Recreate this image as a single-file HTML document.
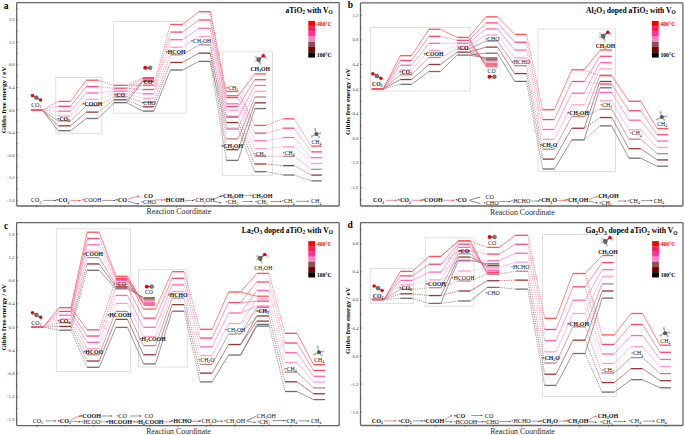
<!DOCTYPE html><html><head><meta charset="utf-8"><style>html,body{margin:0;padding:0;background:#fff;width:685px;height:435px;overflow:hidden}svg{display:block;font-family:"Liberation Serif",serif}</style></head><body>
<svg width="685" height="435" viewBox="0 0 685 435">
<rect width="685" height="435" fill="#fff"/>
<rect x="55.8" y="77.5" width="46" height="55.7" fill="none" stroke="#d6d6d6" stroke-width="0.75"/>
<rect x="113.7" y="21.4" width="72.4" height="91.7" fill="none" stroke="#d6d6d6" stroke-width="0.75"/>
<rect x="222.2" y="51.9" width="50.4" height="123.4" fill="none" stroke="#d6d6d6" stroke-width="0.75"/>
<line x1="42.2" y1="110" x2="58.3" y2="130.7" stroke="#555555" stroke-width="0.6"/>
<line x1="42.2" y1="110" x2="58.3" y2="125.82" stroke="#903030" stroke-width="0.6"/>
<line x1="42.2" y1="110" x2="58.3" y2="120.93" stroke="#a07070" stroke-width="0.6"/>
<line x1="42.2" y1="110" x2="58.3" y2="116.05" stroke="#ff99cc" stroke-width="0.6" stroke-dasharray="1.3,1.0"/>
<line x1="42.2" y1="110" x2="58.3" y2="111.17" stroke="#ff66bb" stroke-width="0.6" stroke-dasharray="1.3,1.0"/>
<line x1="42.2" y1="110" x2="58.3" y2="106.28" stroke="#f5507a" stroke-width="0.6" stroke-dasharray="1.3,1.0"/>
<line x1="42.2" y1="110" x2="58.3" y2="101.4" stroke="#ff3030" stroke-width="0.6" stroke-dasharray="1.3,1.0"/>
<line x1="70.5" y1="130.7" x2="86.3" y2="118.5" stroke="#555555" stroke-width="0.6"/>
<line x1="70.5" y1="125.82" x2="86.3" y2="112.12" stroke="#903030" stroke-width="0.6"/>
<line x1="70.5" y1="120.93" x2="86.3" y2="105.73" stroke="#a07070" stroke-width="0.6"/>
<line x1="70.5" y1="116.05" x2="86.3" y2="99.35" stroke="#ff99cc" stroke-width="0.6"/>
<line x1="70.5" y1="111.17" x2="86.3" y2="92.97" stroke="#ff66bb" stroke-width="0.6"/>
<line x1="70.5" y1="106.28" x2="86.3" y2="86.58" stroke="#f5507a" stroke-width="0.6"/>
<line x1="70.5" y1="101.4" x2="86.3" y2="80.2" stroke="#ff3030" stroke-width="0.6"/>
<line x1="98.1" y1="118.5" x2="114" y2="102.7" stroke="#555555" stroke-width="0.6"/>
<line x1="98.1" y1="112.12" x2="114" y2="99.8" stroke="#903030" stroke-width="0.6" stroke-dasharray="1.3,1.0"/>
<line x1="98.1" y1="105.73" x2="114" y2="96.9" stroke="#a07070" stroke-width="0.6" stroke-dasharray="1.3,1.0"/>
<line x1="98.1" y1="99.35" x2="114" y2="94" stroke="#ff99cc" stroke-width="0.6" stroke-dasharray="1.3,1.0"/>
<line x1="98.1" y1="92.97" x2="114" y2="91.1" stroke="#ff66bb" stroke-width="0.6" stroke-dasharray="1.3,1.0"/>
<line x1="98.1" y1="86.58" x2="114" y2="88.2" stroke="#f5507a" stroke-width="0.6" stroke-dasharray="1.3,1.0"/>
<line x1="98.1" y1="80.2" x2="114" y2="85.3" stroke="#ff3030" stroke-width="0.6" stroke-dasharray="1.3,1.0"/>
<line x1="126.6" y1="102.7" x2="142.8" y2="81.5" stroke="#555555" stroke-width="0.6"/>
<line x1="126.6" y1="99.8" x2="142.8" y2="80.85" stroke="#903030" stroke-width="0.6" stroke-dasharray="1.3,1.0"/>
<line x1="126.6" y1="96.9" x2="142.8" y2="80.2" stroke="#a07070" stroke-width="0.6" stroke-dasharray="1.3,1.0"/>
<line x1="126.6" y1="94" x2="142.8" y2="79.55" stroke="#ff99cc" stroke-width="0.6" stroke-dasharray="1.3,1.0"/>
<line x1="126.6" y1="91.1" x2="142.8" y2="78.9" stroke="#ff66bb" stroke-width="0.6" stroke-dasharray="1.3,1.0"/>
<line x1="126.6" y1="88.2" x2="142.8" y2="78.25" stroke="#f5507a" stroke-width="0.6" stroke-dasharray="1.3,1.0"/>
<line x1="126.6" y1="85.3" x2="142.8" y2="77.6" stroke="#ff3030" stroke-width="0.6" stroke-dasharray="1.3,1.0"/>
<line x1="126.6" y1="102.7" x2="142.8" y2="111.1" stroke="#555555" stroke-width="0.6"/>
<line x1="126.6" y1="99.8" x2="142.8" y2="106.78" stroke="#903030" stroke-width="0.6" stroke-dasharray="1.3,1.0"/>
<line x1="126.6" y1="96.9" x2="142.8" y2="102.47" stroke="#a07070" stroke-width="0.6" stroke-dasharray="1.3,1.0"/>
<line x1="126.6" y1="94" x2="142.8" y2="98.15" stroke="#ff99cc" stroke-width="0.6" stroke-dasharray="1.3,1.0"/>
<line x1="126.6" y1="91.1" x2="142.8" y2="93.83" stroke="#ff66bb" stroke-width="0.6" stroke-dasharray="1.3,1.0"/>
<line x1="126.6" y1="88.2" x2="142.8" y2="89.52" stroke="#f5507a" stroke-width="0.6" stroke-dasharray="1.3,1.0"/>
<line x1="126.6" y1="85.3" x2="142.8" y2="85.2" stroke="#ff3030" stroke-width="0.6" stroke-dasharray="1.3,1.0"/>
<line x1="153.8" y1="111.1" x2="170.4" y2="70" stroke="#555555" stroke-width="0.6"/>
<line x1="153.8" y1="106.78" x2="170.4" y2="62.42" stroke="#903030" stroke-width="0.6" stroke-dasharray="1.3,1.0"/>
<line x1="153.8" y1="102.47" x2="170.4" y2="54.83" stroke="#a07070" stroke-width="0.6" stroke-dasharray="1.3,1.0"/>
<line x1="153.8" y1="98.15" x2="170.4" y2="47.25" stroke="#ff99cc" stroke-width="0.6" stroke-dasharray="1.3,1.0"/>
<line x1="153.8" y1="93.83" x2="170.4" y2="39.67" stroke="#ff66bb" stroke-width="0.6" stroke-dasharray="1.3,1.0"/>
<line x1="153.8" y1="89.52" x2="170.4" y2="32.08" stroke="#f5507a" stroke-width="0.6" stroke-dasharray="1.3,1.0"/>
<line x1="153.8" y1="85.2" x2="170.4" y2="24.5" stroke="#ff3030" stroke-width="0.6" stroke-dasharray="1.3,1.0"/>
<line x1="182.4" y1="70" x2="198.9" y2="61.4" stroke="#555555" stroke-width="0.6"/>
<line x1="182.4" y1="62.42" x2="198.9" y2="53.12" stroke="#903030" stroke-width="0.6"/>
<line x1="182.4" y1="54.83" x2="198.9" y2="44.83" stroke="#a07070" stroke-width="0.6"/>
<line x1="182.4" y1="47.25" x2="198.9" y2="36.55" stroke="#ff99cc" stroke-width="0.6"/>
<line x1="182.4" y1="39.67" x2="198.9" y2="28.27" stroke="#ff66bb" stroke-width="0.6"/>
<line x1="182.4" y1="32.08" x2="198.9" y2="19.98" stroke="#f5507a" stroke-width="0.6"/>
<line x1="182.4" y1="24.5" x2="198.9" y2="11.7" stroke="#ff3030" stroke-width="0.6"/>
<line x1="210.2" y1="61.4" x2="226.4" y2="128.8" stroke="#555555" stroke-width="0.6" stroke-dasharray="1.3,1.0"/>
<line x1="210.2" y1="53.12" x2="226.4" y2="122.57" stroke="#903030" stroke-width="0.6" stroke-dasharray="1.3,1.0"/>
<line x1="210.2" y1="44.83" x2="226.4" y2="116.33" stroke="#a07070" stroke-width="0.6" stroke-dasharray="1.3,1.0"/>
<line x1="210.2" y1="36.55" x2="226.4" y2="110.1" stroke="#ff99cc" stroke-width="0.6" stroke-dasharray="1.3,1.0"/>
<line x1="210.2" y1="28.27" x2="226.4" y2="103.87" stroke="#ff66bb" stroke-width="0.6" stroke-dasharray="1.3,1.0"/>
<line x1="210.2" y1="19.98" x2="226.4" y2="97.63" stroke="#f5507a" stroke-width="0.6" stroke-dasharray="1.3,1.0"/>
<line x1="210.2" y1="11.7" x2="226.4" y2="91.4" stroke="#ff3030" stroke-width="0.6" stroke-dasharray="1.3,1.0"/>
<line x1="210.2" y1="61.4" x2="226.4" y2="160.4" stroke="#555555" stroke-width="0.6" stroke-dasharray="1.3,1.0"/>
<line x1="210.2" y1="53.12" x2="226.4" y2="149.63" stroke="#903030" stroke-width="0.6" stroke-dasharray="1.3,1.0"/>
<line x1="210.2" y1="44.83" x2="226.4" y2="138.87" stroke="#a07070" stroke-width="0.6" stroke-dasharray="1.3,1.0"/>
<line x1="210.2" y1="36.55" x2="226.4" y2="128.1" stroke="#ff99cc" stroke-width="0.6" stroke-dasharray="1.3,1.0"/>
<line x1="210.2" y1="28.27" x2="226.4" y2="117.33" stroke="#ff66bb" stroke-width="0.6" stroke-dasharray="1.3,1.0"/>
<line x1="210.2" y1="19.98" x2="226.4" y2="106.57" stroke="#f5507a" stroke-width="0.6" stroke-dasharray="1.3,1.0"/>
<line x1="210.2" y1="11.7" x2="226.4" y2="95.8" stroke="#ff3030" stroke-width="0.6" stroke-dasharray="1.3,1.0"/>
<line x1="238.1" y1="160.4" x2="254.9" y2="108.6" stroke="#555555" stroke-width="0.6"/>
<line x1="238.1" y1="149.63" x2="254.9" y2="102.82" stroke="#903030" stroke-width="0.6"/>
<line x1="238.1" y1="138.87" x2="254.9" y2="97.03" stroke="#a07070" stroke-width="0.6"/>
<line x1="238.1" y1="128.1" x2="254.9" y2="91.25" stroke="#ff99cc" stroke-width="0.6"/>
<line x1="238.1" y1="117.33" x2="254.9" y2="85.47" stroke="#ff66bb" stroke-width="0.6"/>
<line x1="238.1" y1="106.57" x2="254.9" y2="79.68" stroke="#f5507a" stroke-width="0.6"/>
<line x1="238.1" y1="95.8" x2="254.9" y2="73.9" stroke="#ff3030" stroke-width="0.6"/>
<line x1="238.1" y1="128.8" x2="254.7" y2="171.7" stroke="#555555" stroke-width="0.6" stroke-dasharray="1.3,1.0"/>
<line x1="238.1" y1="122.57" x2="254.7" y2="163.98" stroke="#903030" stroke-width="0.6" stroke-dasharray="1.3,1.0"/>
<line x1="238.1" y1="116.33" x2="254.7" y2="156.27" stroke="#a07070" stroke-width="0.6" stroke-dasharray="1.3,1.0"/>
<line x1="238.1" y1="110.1" x2="254.7" y2="148.55" stroke="#ff99cc" stroke-width="0.6" stroke-dasharray="1.3,1.0"/>
<line x1="238.1" y1="103.87" x2="254.7" y2="140.83" stroke="#ff66bb" stroke-width="0.6" stroke-dasharray="1.3,1.0"/>
<line x1="238.1" y1="97.63" x2="254.7" y2="133.12" stroke="#f5507a" stroke-width="0.6" stroke-dasharray="1.3,1.0"/>
<line x1="238.1" y1="91.4" x2="254.7" y2="125.4" stroke="#ff3030" stroke-width="0.6" stroke-dasharray="1.3,1.0"/>
<line x1="266.1" y1="171.7" x2="283.2" y2="175" stroke="#555555" stroke-width="0.6" stroke-dasharray="1.3,1.0"/>
<line x1="266.1" y1="163.98" x2="283.2" y2="165.63" stroke="#903030" stroke-width="0.6" stroke-dasharray="1.3,1.0"/>
<line x1="266.1" y1="156.27" x2="283.2" y2="156.27" stroke="#a07070" stroke-width="0.6" stroke-dasharray="1.3,1.0"/>
<line x1="266.1" y1="148.55" x2="283.2" y2="146.9" stroke="#ff99cc" stroke-width="0.6" stroke-dasharray="1.3,1.0"/>
<line x1="266.1" y1="140.83" x2="283.2" y2="137.53" stroke="#ff66bb" stroke-width="0.6" stroke-dasharray="1.3,1.0"/>
<line x1="266.1" y1="133.12" x2="283.2" y2="128.17" stroke="#f5507a" stroke-width="0.6" stroke-dasharray="1.3,1.0"/>
<line x1="266.1" y1="125.4" x2="283.2" y2="118.8" stroke="#ff3030" stroke-width="0.6" stroke-dasharray="1.3,1.0"/>
<line x1="294.2" y1="175" x2="311.3" y2="180.9" stroke="#555555" stroke-width="0.6" stroke-dasharray="1.3,1.0"/>
<line x1="294.2" y1="165.63" x2="311.3" y2="175.1" stroke="#903030" stroke-width="0.6" stroke-dasharray="1.3,1.0"/>
<line x1="294.2" y1="156.27" x2="311.3" y2="169.3" stroke="#a07070" stroke-width="0.6" stroke-dasharray="1.3,1.0"/>
<line x1="294.2" y1="146.9" x2="311.3" y2="163.5" stroke="#ff99cc" stroke-width="0.6" stroke-dasharray="1.3,1.0"/>
<line x1="294.2" y1="137.53" x2="311.3" y2="157.7" stroke="#ff66bb" stroke-width="0.6" stroke-dasharray="1.3,1.0"/>
<line x1="294.2" y1="128.17" x2="311.3" y2="151.9" stroke="#f5507a" stroke-width="0.6" stroke-dasharray="1.3,1.0"/>
<line x1="294.2" y1="118.8" x2="311.3" y2="146.1" stroke="#ff3030" stroke-width="0.6" stroke-dasharray="1.3,1.0"/>
<line x1="31" y1="110" x2="42.2" y2="110" stroke="#707070" stroke-width="1.3"/>
<line x1="31" y1="110" x2="42.2" y2="110" stroke="#9a3535" stroke-width="1.3"/>
<line x1="31" y1="110" x2="42.2" y2="110" stroke="#bb8585" stroke-width="1.3"/>
<line x1="31" y1="110" x2="42.2" y2="110" stroke="#ff9dcf" stroke-width="1.3"/>
<line x1="31" y1="110" x2="42.2" y2="110" stroke="#ff66bb" stroke-width="1.3"/>
<line x1="31" y1="110" x2="42.2" y2="110" stroke="#f4487a" stroke-width="1.3"/>
<line x1="31" y1="110" x2="42.2" y2="110" stroke="#ff5252" stroke-width="1.3"/>
<line x1="58.3" y1="130.7" x2="70.5" y2="130.7" stroke="#707070" stroke-width="1.3"/>
<line x1="58.3" y1="125.82" x2="70.5" y2="125.82" stroke="#9a3535" stroke-width="1.3"/>
<line x1="58.3" y1="120.93" x2="70.5" y2="120.93" stroke="#bb8585" stroke-width="1.3"/>
<line x1="58.3" y1="116.05" x2="70.5" y2="116.05" stroke="#ff9dcf" stroke-width="1.3"/>
<line x1="58.3" y1="111.17" x2="70.5" y2="111.17" stroke="#ff66bb" stroke-width="1.3"/>
<line x1="58.3" y1="106.28" x2="70.5" y2="106.28" stroke="#f4487a" stroke-width="1.3"/>
<line x1="58.3" y1="101.4" x2="70.5" y2="101.4" stroke="#ff5252" stroke-width="1.3"/>
<line x1="86.3" y1="118.5" x2="98.1" y2="118.5" stroke="#707070" stroke-width="1.3"/>
<line x1="86.3" y1="112.12" x2="98.1" y2="112.12" stroke="#9a3535" stroke-width="1.3"/>
<line x1="86.3" y1="105.73" x2="98.1" y2="105.73" stroke="#bb8585" stroke-width="1.3"/>
<line x1="86.3" y1="99.35" x2="98.1" y2="99.35" stroke="#ff9dcf" stroke-width="1.3"/>
<line x1="86.3" y1="92.97" x2="98.1" y2="92.97" stroke="#ff66bb" stroke-width="1.3"/>
<line x1="86.3" y1="86.58" x2="98.1" y2="86.58" stroke="#f4487a" stroke-width="1.3"/>
<line x1="86.3" y1="80.2" x2="98.1" y2="80.2" stroke="#ff5252" stroke-width="1.3"/>
<line x1="114" y1="102.7" x2="126.6" y2="102.7" stroke="#707070" stroke-width="1.3"/>
<line x1="114" y1="99.8" x2="126.6" y2="99.8" stroke="#9a3535" stroke-width="1.3"/>
<line x1="114" y1="96.9" x2="126.6" y2="96.9" stroke="#bb8585" stroke-width="1.3"/>
<line x1="114" y1="94" x2="126.6" y2="94" stroke="#ff9dcf" stroke-width="1.3"/>
<line x1="114" y1="91.1" x2="126.6" y2="91.1" stroke="#ff66bb" stroke-width="1.3"/>
<line x1="114" y1="88.2" x2="126.6" y2="88.2" stroke="#f4487a" stroke-width="1.3"/>
<line x1="114" y1="85.3" x2="126.6" y2="85.3" stroke="#ff5252" stroke-width="1.3"/>
<line x1="142.8" y1="81.5" x2="153.8" y2="81.5" stroke="#707070" stroke-width="1.3"/>
<line x1="142.8" y1="80.85" x2="153.8" y2="80.85" stroke="#9a3535" stroke-width="1.3"/>
<line x1="142.8" y1="80.2" x2="153.8" y2="80.2" stroke="#bb8585" stroke-width="1.3"/>
<line x1="142.8" y1="79.55" x2="153.8" y2="79.55" stroke="#ff9dcf" stroke-width="1.3"/>
<line x1="142.8" y1="78.9" x2="153.8" y2="78.9" stroke="#ff66bb" stroke-width="1.3"/>
<line x1="142.8" y1="78.25" x2="153.8" y2="78.25" stroke="#f4487a" stroke-width="1.3"/>
<line x1="142.8" y1="77.6" x2="153.8" y2="77.6" stroke="#ff5252" stroke-width="1.3"/>
<line x1="142.8" y1="111.1" x2="153.8" y2="111.1" stroke="#707070" stroke-width="1.3"/>
<line x1="142.8" y1="106.78" x2="153.8" y2="106.78" stroke="#9a3535" stroke-width="1.3"/>
<line x1="142.8" y1="102.47" x2="153.8" y2="102.47" stroke="#bb8585" stroke-width="1.3"/>
<line x1="142.8" y1="98.15" x2="153.8" y2="98.15" stroke="#ff9dcf" stroke-width="1.3"/>
<line x1="142.8" y1="93.83" x2="153.8" y2="93.83" stroke="#ff66bb" stroke-width="1.3"/>
<line x1="142.8" y1="89.52" x2="153.8" y2="89.52" stroke="#f4487a" stroke-width="1.3"/>
<line x1="142.8" y1="85.2" x2="153.8" y2="85.2" stroke="#ff5252" stroke-width="1.3"/>
<line x1="170.4" y1="70" x2="182.4" y2="70" stroke="#707070" stroke-width="1.3"/>
<line x1="170.4" y1="62.42" x2="182.4" y2="62.42" stroke="#9a3535" stroke-width="1.3"/>
<line x1="170.4" y1="54.83" x2="182.4" y2="54.83" stroke="#bb8585" stroke-width="1.3"/>
<line x1="170.4" y1="47.25" x2="182.4" y2="47.25" stroke="#ff9dcf" stroke-width="1.3"/>
<line x1="170.4" y1="39.67" x2="182.4" y2="39.67" stroke="#ff66bb" stroke-width="1.3"/>
<line x1="170.4" y1="32.08" x2="182.4" y2="32.08" stroke="#f4487a" stroke-width="1.3"/>
<line x1="170.4" y1="24.5" x2="182.4" y2="24.5" stroke="#ff5252" stroke-width="1.3"/>
<line x1="198.9" y1="61.4" x2="210.2" y2="61.4" stroke="#707070" stroke-width="1.3"/>
<line x1="198.9" y1="53.12" x2="210.2" y2="53.12" stroke="#9a3535" stroke-width="1.3"/>
<line x1="198.9" y1="44.83" x2="210.2" y2="44.83" stroke="#bb8585" stroke-width="1.3"/>
<line x1="198.9" y1="36.55" x2="210.2" y2="36.55" stroke="#ff9dcf" stroke-width="1.3"/>
<line x1="198.9" y1="28.27" x2="210.2" y2="28.27" stroke="#ff66bb" stroke-width="1.3"/>
<line x1="198.9" y1="19.98" x2="210.2" y2="19.98" stroke="#f4487a" stroke-width="1.3"/>
<line x1="198.9" y1="11.7" x2="210.2" y2="11.7" stroke="#ff5252" stroke-width="1.3"/>
<line x1="226.4" y1="128.8" x2="238.1" y2="128.8" stroke="#707070" stroke-width="1.3"/>
<line x1="226.4" y1="122.57" x2="238.1" y2="122.57" stroke="#9a3535" stroke-width="1.3"/>
<line x1="226.4" y1="116.33" x2="238.1" y2="116.33" stroke="#bb8585" stroke-width="1.3"/>
<line x1="226.4" y1="110.1" x2="238.1" y2="110.1" stroke="#ff9dcf" stroke-width="1.3"/>
<line x1="226.4" y1="103.87" x2="238.1" y2="103.87" stroke="#ff66bb" stroke-width="1.3"/>
<line x1="226.4" y1="97.63" x2="238.1" y2="97.63" stroke="#f4487a" stroke-width="1.3"/>
<line x1="226.4" y1="91.4" x2="238.1" y2="91.4" stroke="#ff5252" stroke-width="1.3"/>
<line x1="226.4" y1="160.4" x2="238.1" y2="160.4" stroke="#707070" stroke-width="1.3"/>
<line x1="226.4" y1="149.63" x2="238.1" y2="149.63" stroke="#9a3535" stroke-width="1.3"/>
<line x1="226.4" y1="138.87" x2="238.1" y2="138.87" stroke="#bb8585" stroke-width="1.3"/>
<line x1="226.4" y1="128.1" x2="238.1" y2="128.1" stroke="#ff9dcf" stroke-width="1.3"/>
<line x1="226.4" y1="117.33" x2="238.1" y2="117.33" stroke="#ff66bb" stroke-width="1.3"/>
<line x1="226.4" y1="106.57" x2="238.1" y2="106.57" stroke="#f4487a" stroke-width="1.3"/>
<line x1="226.4" y1="95.8" x2="238.1" y2="95.8" stroke="#ff5252" stroke-width="1.3"/>
<line x1="254.9" y1="108.6" x2="265.9" y2="108.6" stroke="#707070" stroke-width="1.3"/>
<line x1="254.9" y1="102.82" x2="265.9" y2="102.82" stroke="#9a3535" stroke-width="1.3"/>
<line x1="254.9" y1="97.03" x2="265.9" y2="97.03" stroke="#bb8585" stroke-width="1.3"/>
<line x1="254.9" y1="91.25" x2="265.9" y2="91.25" stroke="#ff9dcf" stroke-width="1.3"/>
<line x1="254.9" y1="85.47" x2="265.9" y2="85.47" stroke="#ff66bb" stroke-width="1.3"/>
<line x1="254.9" y1="79.68" x2="265.9" y2="79.68" stroke="#f4487a" stroke-width="1.3"/>
<line x1="254.9" y1="73.9" x2="265.9" y2="73.9" stroke="#ff5252" stroke-width="1.3"/>
<line x1="254.7" y1="171.7" x2="266.1" y2="171.7" stroke="#707070" stroke-width="1.3"/>
<line x1="254.7" y1="163.98" x2="266.1" y2="163.98" stroke="#9a3535" stroke-width="1.3"/>
<line x1="254.7" y1="156.27" x2="266.1" y2="156.27" stroke="#bb8585" stroke-width="1.3"/>
<line x1="254.7" y1="148.55" x2="266.1" y2="148.55" stroke="#ff9dcf" stroke-width="1.3"/>
<line x1="254.7" y1="140.83" x2="266.1" y2="140.83" stroke="#ff66bb" stroke-width="1.3"/>
<line x1="254.7" y1="133.12" x2="266.1" y2="133.12" stroke="#f4487a" stroke-width="1.3"/>
<line x1="254.7" y1="125.4" x2="266.1" y2="125.4" stroke="#ff5252" stroke-width="1.3"/>
<line x1="283.2" y1="175" x2="294.2" y2="175" stroke="#707070" stroke-width="1.3"/>
<line x1="283.2" y1="165.63" x2="294.2" y2="165.63" stroke="#9a3535" stroke-width="1.3"/>
<line x1="283.2" y1="156.27" x2="294.2" y2="156.27" stroke="#bb8585" stroke-width="1.3"/>
<line x1="283.2" y1="146.9" x2="294.2" y2="146.9" stroke="#ff9dcf" stroke-width="1.3"/>
<line x1="283.2" y1="137.53" x2="294.2" y2="137.53" stroke="#ff66bb" stroke-width="1.3"/>
<line x1="283.2" y1="128.17" x2="294.2" y2="128.17" stroke="#f4487a" stroke-width="1.3"/>
<line x1="283.2" y1="118.8" x2="294.2" y2="118.8" stroke="#ff5252" stroke-width="1.3"/>
<line x1="311.3" y1="180.9" x2="321.8" y2="180.9" stroke="#707070" stroke-width="1.3"/>
<line x1="311.3" y1="175.1" x2="321.8" y2="175.1" stroke="#9a3535" stroke-width="1.3"/>
<line x1="311.3" y1="169.3" x2="321.8" y2="169.3" stroke="#bb8585" stroke-width="1.3"/>
<line x1="311.3" y1="163.5" x2="321.8" y2="163.5" stroke="#ff9dcf" stroke-width="1.3"/>
<line x1="311.3" y1="157.7" x2="321.8" y2="157.7" stroke="#ff66bb" stroke-width="1.3"/>
<line x1="311.3" y1="151.9" x2="321.8" y2="151.9" stroke="#f4487a" stroke-width="1.3"/>
<line x1="311.3" y1="146.1" x2="321.8" y2="146.1" stroke="#ff5252" stroke-width="1.3"/>
<rect x="16.7" y="2.7" width="322.5" height="203.3" fill="none" stroke="#666" stroke-width="1.3" rx="0.8"/>
<line x1="16.7" y1="200.3" x2="18.3" y2="200.3" stroke="#444" stroke-width="0.5"/>
<text x="14.7" y="201.89" font-size="4.8" text-anchor="end" fill="#444" >-1.6</text>
<line x1="16.7" y1="189.02" x2="17.9" y2="189.02" stroke="#444" stroke-width="0.5"/>
<line x1="16.7" y1="177.73" x2="18.3" y2="177.73" stroke="#444" stroke-width="0.5"/>
<text x="14.7" y="179.31" font-size="4.8" text-anchor="end" fill="#444" >-1.2</text>
<line x1="16.7" y1="166.44" x2="17.9" y2="166.44" stroke="#444" stroke-width="0.5"/>
<line x1="16.7" y1="155.15" x2="18.3" y2="155.15" stroke="#444" stroke-width="0.5"/>
<text x="14.7" y="156.74" font-size="4.8" text-anchor="end" fill="#444" >-0.8</text>
<line x1="16.7" y1="143.86" x2="17.9" y2="143.86" stroke="#444" stroke-width="0.5"/>
<line x1="16.7" y1="132.58" x2="18.3" y2="132.58" stroke="#444" stroke-width="0.5"/>
<text x="14.7" y="134.16" font-size="4.8" text-anchor="end" fill="#444" >-0.4</text>
<line x1="16.7" y1="121.29" x2="17.9" y2="121.29" stroke="#444" stroke-width="0.5"/>
<line x1="16.7" y1="110" x2="18.3" y2="110" stroke="#444" stroke-width="0.5"/>
<text x="14.7" y="111.58" font-size="4.8" text-anchor="end" fill="#444" >0.0</text>
<line x1="16.7" y1="98.71" x2="17.9" y2="98.71" stroke="#444" stroke-width="0.5"/>
<line x1="16.7" y1="87.42" x2="18.3" y2="87.42" stroke="#444" stroke-width="0.5"/>
<text x="14.7" y="89.01" font-size="4.8" text-anchor="end" fill="#444" >0.4</text>
<line x1="16.7" y1="76.14" x2="17.9" y2="76.14" stroke="#444" stroke-width="0.5"/>
<line x1="16.7" y1="64.85" x2="18.3" y2="64.85" stroke="#444" stroke-width="0.5"/>
<text x="14.7" y="66.43" font-size="4.8" text-anchor="end" fill="#444" >0.8</text>
<line x1="16.7" y1="53.56" x2="17.9" y2="53.56" stroke="#444" stroke-width="0.5"/>
<line x1="16.7" y1="42.27" x2="18.3" y2="42.27" stroke="#444" stroke-width="0.5"/>
<text x="14.7" y="43.86" font-size="4.8" text-anchor="end" fill="#444" >1.2</text>
<line x1="16.7" y1="30.98" x2="17.9" y2="30.98" stroke="#444" stroke-width="0.5"/>
<line x1="16.7" y1="19.7" x2="18.3" y2="19.7" stroke="#444" stroke-width="0.5"/>
<text x="14.7" y="21.28" font-size="4.8" text-anchor="end" fill="#444" >1.6</text>
<line x1="16.7" y1="8.41" x2="17.9" y2="8.41" stroke="#444" stroke-width="0.5"/>
<line x1="36.4" y1="205.7" x2="36.4" y2="207.3" stroke="#444" stroke-width="0.6"/>
<line x1="64.4" y1="205.7" x2="64.4" y2="207.3" stroke="#444" stroke-width="0.6"/>
<line x1="92.4" y1="205.7" x2="92.4" y2="207.3" stroke="#444" stroke-width="0.6"/>
<line x1="120.4" y1="205.7" x2="120.4" y2="207.3" stroke="#444" stroke-width="0.6"/>
<line x1="148.4" y1="205.7" x2="148.4" y2="207.3" stroke="#444" stroke-width="0.6"/>
<line x1="176.4" y1="205.7" x2="176.4" y2="207.3" stroke="#444" stroke-width="0.6"/>
<line x1="204.4" y1="205.7" x2="204.4" y2="207.3" stroke="#444" stroke-width="0.6"/>
<line x1="232.4" y1="205.7" x2="232.4" y2="207.3" stroke="#444" stroke-width="0.6"/>
<line x1="260.4" y1="205.7" x2="260.4" y2="207.3" stroke="#444" stroke-width="0.6"/>
<line x1="288.4" y1="205.7" x2="288.4" y2="207.3" stroke="#444" stroke-width="0.6"/>
<line x1="316.4" y1="205.7" x2="316.4" y2="207.3" stroke="#444" stroke-width="0.6"/>
<rect x="370.7" y="27.4" width="99.4" height="63.6" fill="none" stroke="#d6d6d6" stroke-width="0.75"/>
<rect x="538" y="29" width="77.5" height="142.7" fill="none" stroke="#d6d6d6" stroke-width="0.75"/>
<line x1="383.1" y1="89" x2="400.3" y2="84.3" stroke="#555555" stroke-width="0.6" stroke-dasharray="1.3,1.0"/>
<line x1="383.1" y1="89" x2="400.3" y2="79.53" stroke="#903030" stroke-width="0.6"/>
<line x1="383.1" y1="89" x2="400.3" y2="74.77" stroke="#a07070" stroke-width="0.6"/>
<line x1="383.1" y1="89" x2="400.3" y2="70" stroke="#ff99cc" stroke-width="0.6"/>
<line x1="383.1" y1="89" x2="400.3" y2="65.23" stroke="#ff66bb" stroke-width="0.6"/>
<line x1="383.1" y1="89" x2="400.3" y2="60.47" stroke="#f5507a" stroke-width="0.6"/>
<line x1="383.1" y1="89" x2="400.3" y2="55.7" stroke="#ff3030" stroke-width="0.6"/>
<line x1="411.6" y1="84.3" x2="429" y2="71.5" stroke="#555555" stroke-width="0.6"/>
<line x1="411.6" y1="79.53" x2="429" y2="64.47" stroke="#903030" stroke-width="0.6"/>
<line x1="411.6" y1="74.77" x2="429" y2="57.43" stroke="#a07070" stroke-width="0.6"/>
<line x1="411.6" y1="70" x2="429" y2="50.4" stroke="#ff99cc" stroke-width="0.6"/>
<line x1="411.6" y1="65.23" x2="429" y2="43.37" stroke="#ff66bb" stroke-width="0.6"/>
<line x1="411.6" y1="60.47" x2="429" y2="36.33" stroke="#f5507a" stroke-width="0.6"/>
<line x1="411.6" y1="55.7" x2="429" y2="29.3" stroke="#ff3030" stroke-width="0.6"/>
<line x1="440.3" y1="71.5" x2="457.2" y2="55.1" stroke="#555555" stroke-width="0.6"/>
<line x1="440.3" y1="64.47" x2="457.2" y2="52.15" stroke="#903030" stroke-width="0.6"/>
<line x1="440.3" y1="57.43" x2="457.2" y2="49.2" stroke="#a07070" stroke-width="0.6" stroke-dasharray="1.3,1.0"/>
<line x1="440.3" y1="50.4" x2="457.2" y2="46.25" stroke="#ff99cc" stroke-width="0.6" stroke-dasharray="1.3,1.0"/>
<line x1="440.3" y1="43.37" x2="457.2" y2="43.3" stroke="#ff66bb" stroke-width="0.6" stroke-dasharray="1.3,1.0"/>
<line x1="440.3" y1="36.33" x2="457.2" y2="40.35" stroke="#f5507a" stroke-width="0.6" stroke-dasharray="1.3,1.0"/>
<line x1="440.3" y1="29.3" x2="457.2" y2="37.4" stroke="#ff3030" stroke-width="0.6"/>
<line x1="468.5" y1="55.1" x2="485.9" y2="53.2" stroke="#555555" stroke-width="0.6"/>
<line x1="468.5" y1="52.15" x2="485.9" y2="47.13" stroke="#903030" stroke-width="0.6"/>
<line x1="468.5" y1="49.2" x2="485.9" y2="41.07" stroke="#a07070" stroke-width="0.6"/>
<line x1="468.5" y1="46.25" x2="485.9" y2="35" stroke="#ff99cc" stroke-width="0.6"/>
<line x1="468.5" y1="43.3" x2="485.9" y2="28.93" stroke="#ff66bb" stroke-width="0.6"/>
<line x1="468.5" y1="40.35" x2="485.9" y2="22.87" stroke="#f5507a" stroke-width="0.6"/>
<line x1="468.5" y1="37.4" x2="485.9" y2="16.8" stroke="#ff3030" stroke-width="0.6"/>
<line x1="468.5" y1="55.1" x2="485.9" y2="57.8" stroke="#555555" stroke-width="0.6"/>
<line x1="468.5" y1="52.15" x2="485.9" y2="59.2" stroke="#903030" stroke-width="0.6"/>
<line x1="468.5" y1="49.2" x2="485.9" y2="60.6" stroke="#a07070" stroke-width="0.6"/>
<line x1="468.5" y1="46.25" x2="485.9" y2="62" stroke="#ff99cc" stroke-width="0.6"/>
<line x1="468.5" y1="43.3" x2="485.9" y2="63.4" stroke="#ff66bb" stroke-width="0.6"/>
<line x1="468.5" y1="40.35" x2="485.9" y2="64.8" stroke="#f5507a" stroke-width="0.6"/>
<line x1="468.5" y1="37.4" x2="485.9" y2="66.2" stroke="#ff3030" stroke-width="0.6"/>
<line x1="497.5" y1="53.2" x2="514.7" y2="81.4" stroke="#555555" stroke-width="0.6"/>
<line x1="497.5" y1="47.13" x2="514.7" y2="73.57" stroke="#903030" stroke-width="0.6"/>
<line x1="497.5" y1="41.07" x2="514.7" y2="65.73" stroke="#a07070" stroke-width="0.6"/>
<line x1="497.5" y1="35" x2="514.7" y2="57.9" stroke="#ff99cc" stroke-width="0.6"/>
<line x1="497.5" y1="28.93" x2="514.7" y2="50.07" stroke="#ff66bb" stroke-width="0.6"/>
<line x1="497.5" y1="22.87" x2="514.7" y2="42.23" stroke="#f5507a" stroke-width="0.6"/>
<line x1="497.5" y1="16.8" x2="514.7" y2="34.4" stroke="#ff3030" stroke-width="0.6"/>
<line x1="526.5" y1="81.4" x2="542.7" y2="169" stroke="#555555" stroke-width="0.6" stroke-dasharray="1.3,1.0"/>
<line x1="526.5" y1="73.57" x2="542.7" y2="159.12" stroke="#903030" stroke-width="0.6" stroke-dasharray="1.3,1.0"/>
<line x1="526.5" y1="65.73" x2="542.7" y2="149.23" stroke="#a07070" stroke-width="0.6" stroke-dasharray="1.3,1.0"/>
<line x1="526.5" y1="57.9" x2="542.7" y2="139.35" stroke="#ff99cc" stroke-width="0.6" stroke-dasharray="1.3,1.0"/>
<line x1="526.5" y1="50.07" x2="542.7" y2="129.47" stroke="#ff66bb" stroke-width="0.6" stroke-dasharray="1.3,1.0"/>
<line x1="526.5" y1="42.23" x2="542.7" y2="119.58" stroke="#f5507a" stroke-width="0.6" stroke-dasharray="1.3,1.0"/>
<line x1="526.5" y1="34.4" x2="542.7" y2="109.7" stroke="#ff3030" stroke-width="0.6" stroke-dasharray="1.3,1.0"/>
<line x1="554.3" y1="169" x2="571.8" y2="139.9" stroke="#555555" stroke-width="0.6"/>
<line x1="554.3" y1="159.12" x2="571.8" y2="128.22" stroke="#903030" stroke-width="0.6"/>
<line x1="554.3" y1="149.23" x2="571.8" y2="116.53" stroke="#a07070" stroke-width="0.6"/>
<line x1="554.3" y1="139.35" x2="571.8" y2="104.85" stroke="#ff99cc" stroke-width="0.6"/>
<line x1="554.3" y1="129.47" x2="571.8" y2="93.17" stroke="#ff66bb" stroke-width="0.6"/>
<line x1="554.3" y1="119.58" x2="571.8" y2="81.48" stroke="#f5507a" stroke-width="0.6"/>
<line x1="554.3" y1="109.7" x2="571.8" y2="69.8" stroke="#ff3030" stroke-width="0.6"/>
<line x1="584.2" y1="139.9" x2="600" y2="87.8" stroke="#555555" stroke-width="0.6"/>
<line x1="584.2" y1="128.22" x2="600" y2="81.5" stroke="#903030" stroke-width="0.6"/>
<line x1="584.2" y1="116.53" x2="600" y2="75.2" stroke="#a07070" stroke-width="0.6"/>
<line x1="584.2" y1="104.85" x2="600" y2="68.9" stroke="#ff99cc" stroke-width="0.6"/>
<line x1="584.2" y1="93.17" x2="600" y2="62.6" stroke="#ff66bb" stroke-width="0.6"/>
<line x1="584.2" y1="81.48" x2="600" y2="56.3" stroke="#f5507a" stroke-width="0.6"/>
<line x1="584.2" y1="69.8" x2="600" y2="50" stroke="#ff3030" stroke-width="0.6"/>
<line x1="584.2" y1="139.9" x2="600" y2="125.9" stroke="#555555" stroke-width="0.6" stroke-dasharray="1.3,1.0"/>
<line x1="584.2" y1="128.22" x2="600" y2="117.53" stroke="#903030" stroke-width="0.6" stroke-dasharray="1.3,1.0"/>
<line x1="584.2" y1="116.53" x2="600" y2="109.17" stroke="#a07070" stroke-width="0.6" stroke-dasharray="1.3,1.0"/>
<line x1="584.2" y1="104.85" x2="600" y2="100.8" stroke="#ff99cc" stroke-width="0.6" stroke-dasharray="1.3,1.0"/>
<line x1="584.2" y1="93.17" x2="600" y2="92.43" stroke="#ff66bb" stroke-width="0.6" stroke-dasharray="1.3,1.0"/>
<line x1="584.2" y1="81.48" x2="600" y2="84.07" stroke="#f5507a" stroke-width="0.6" stroke-dasharray="1.3,1.0"/>
<line x1="584.2" y1="69.8" x2="600" y2="75.7" stroke="#ff3030" stroke-width="0.6" stroke-dasharray="1.3,1.0"/>
<line x1="611.7" y1="125.9" x2="628.9" y2="158.2" stroke="#555555" stroke-width="0.6"/>
<line x1="611.7" y1="117.53" x2="628.9" y2="148.7" stroke="#903030" stroke-width="0.6"/>
<line x1="611.7" y1="109.17" x2="628.9" y2="139.2" stroke="#a07070" stroke-width="0.6"/>
<line x1="611.7" y1="100.8" x2="628.9" y2="129.7" stroke="#ff99cc" stroke-width="0.6"/>
<line x1="611.7" y1="92.43" x2="628.9" y2="120.2" stroke="#ff66bb" stroke-width="0.6"/>
<line x1="611.7" y1="84.07" x2="628.9" y2="110.7" stroke="#f5507a" stroke-width="0.6"/>
<line x1="611.7" y1="75.7" x2="628.9" y2="101.2" stroke="#ff3030" stroke-width="0.6"/>
<line x1="640.7" y1="158.2" x2="657.2" y2="166.2" stroke="#555555" stroke-width="0.6"/>
<line x1="640.7" y1="148.7" x2="657.2" y2="159.92" stroke="#903030" stroke-width="0.6"/>
<line x1="640.7" y1="139.2" x2="657.2" y2="153.63" stroke="#a07070" stroke-width="0.6"/>
<line x1="640.7" y1="129.7" x2="657.2" y2="147.35" stroke="#ff99cc" stroke-width="0.6"/>
<line x1="640.7" y1="120.2" x2="657.2" y2="141.07" stroke="#ff66bb" stroke-width="0.6"/>
<line x1="640.7" y1="110.7" x2="657.2" y2="134.78" stroke="#f5507a" stroke-width="0.6"/>
<line x1="640.7" y1="101.2" x2="657.2" y2="128.5" stroke="#ff3030" stroke-width="0.6"/>
<line x1="371.9" y1="89" x2="383.1" y2="89" stroke="#707070" stroke-width="1.3"/>
<line x1="371.9" y1="89" x2="383.1" y2="89" stroke="#9a3535" stroke-width="1.3"/>
<line x1="371.9" y1="89" x2="383.1" y2="89" stroke="#bb8585" stroke-width="1.3"/>
<line x1="371.9" y1="89" x2="383.1" y2="89" stroke="#ff9dcf" stroke-width="1.3"/>
<line x1="371.9" y1="89" x2="383.1" y2="89" stroke="#ff66bb" stroke-width="1.3"/>
<line x1="371.9" y1="89" x2="383.1" y2="89" stroke="#f4487a" stroke-width="1.3"/>
<line x1="371.9" y1="89" x2="383.1" y2="89" stroke="#ff5252" stroke-width="1.3"/>
<line x1="400.3" y1="84.3" x2="411.6" y2="84.3" stroke="#707070" stroke-width="1.3"/>
<line x1="400.3" y1="79.53" x2="411.6" y2="79.53" stroke="#9a3535" stroke-width="1.3"/>
<line x1="400.3" y1="74.77" x2="411.6" y2="74.77" stroke="#bb8585" stroke-width="1.3"/>
<line x1="400.3" y1="70" x2="411.6" y2="70" stroke="#ff9dcf" stroke-width="1.3"/>
<line x1="400.3" y1="65.23" x2="411.6" y2="65.23" stroke="#ff66bb" stroke-width="1.3"/>
<line x1="400.3" y1="60.47" x2="411.6" y2="60.47" stroke="#f4487a" stroke-width="1.3"/>
<line x1="400.3" y1="55.7" x2="411.6" y2="55.7" stroke="#ff5252" stroke-width="1.3"/>
<line x1="429" y1="71.5" x2="440.3" y2="71.5" stroke="#707070" stroke-width="1.3"/>
<line x1="429" y1="64.47" x2="440.3" y2="64.47" stroke="#9a3535" stroke-width="1.3"/>
<line x1="429" y1="57.43" x2="440.3" y2="57.43" stroke="#bb8585" stroke-width="1.3"/>
<line x1="429" y1="50.4" x2="440.3" y2="50.4" stroke="#ff9dcf" stroke-width="1.3"/>
<line x1="429" y1="43.37" x2="440.3" y2="43.37" stroke="#ff66bb" stroke-width="1.3"/>
<line x1="429" y1="36.33" x2="440.3" y2="36.33" stroke="#f4487a" stroke-width="1.3"/>
<line x1="429" y1="29.3" x2="440.3" y2="29.3" stroke="#ff5252" stroke-width="1.3"/>
<line x1="457.2" y1="55.1" x2="468.5" y2="55.1" stroke="#707070" stroke-width="1.3"/>
<line x1="457.2" y1="52.15" x2="468.5" y2="52.15" stroke="#9a3535" stroke-width="1.3"/>
<line x1="457.2" y1="49.2" x2="468.5" y2="49.2" stroke="#bb8585" stroke-width="1.3"/>
<line x1="457.2" y1="46.25" x2="468.5" y2="46.25" stroke="#ff9dcf" stroke-width="1.3"/>
<line x1="457.2" y1="43.3" x2="468.5" y2="43.3" stroke="#ff66bb" stroke-width="1.3"/>
<line x1="457.2" y1="40.35" x2="468.5" y2="40.35" stroke="#f4487a" stroke-width="1.3"/>
<line x1="457.2" y1="37.4" x2="468.5" y2="37.4" stroke="#ff5252" stroke-width="1.3"/>
<line x1="485.9" y1="53.2" x2="497.5" y2="53.2" stroke="#707070" stroke-width="1.3"/>
<line x1="485.9" y1="47.13" x2="497.5" y2="47.13" stroke="#9a3535" stroke-width="1.3"/>
<line x1="485.9" y1="41.07" x2="497.5" y2="41.07" stroke="#bb8585" stroke-width="1.3"/>
<line x1="485.9" y1="35" x2="497.5" y2="35" stroke="#ff9dcf" stroke-width="1.3"/>
<line x1="485.9" y1="28.93" x2="497.5" y2="28.93" stroke="#ff66bb" stroke-width="1.3"/>
<line x1="485.9" y1="22.87" x2="497.5" y2="22.87" stroke="#f4487a" stroke-width="1.3"/>
<line x1="485.9" y1="16.8" x2="497.5" y2="16.8" stroke="#ff5252" stroke-width="1.3"/>
<line x1="485.9" y1="57.8" x2="497.5" y2="57.8" stroke="#707070" stroke-width="1.3"/>
<line x1="485.9" y1="59.2" x2="497.5" y2="59.2" stroke="#9a3535" stroke-width="1.3"/>
<line x1="485.9" y1="60.6" x2="497.5" y2="60.6" stroke="#bb8585" stroke-width="1.3"/>
<line x1="485.9" y1="62" x2="497.5" y2="62" stroke="#ff9dcf" stroke-width="1.3"/>
<line x1="485.9" y1="63.4" x2="497.5" y2="63.4" stroke="#ff66bb" stroke-width="1.3"/>
<line x1="485.9" y1="64.8" x2="497.5" y2="64.8" stroke="#f4487a" stroke-width="1.3"/>
<line x1="485.9" y1="66.2" x2="497.5" y2="66.2" stroke="#ff5252" stroke-width="1.3"/>
<line x1="514.7" y1="81.4" x2="526.5" y2="81.4" stroke="#707070" stroke-width="1.3"/>
<line x1="514.7" y1="73.57" x2="526.5" y2="73.57" stroke="#9a3535" stroke-width="1.3"/>
<line x1="514.7" y1="65.73" x2="526.5" y2="65.73" stroke="#bb8585" stroke-width="1.3"/>
<line x1="514.7" y1="57.9" x2="526.5" y2="57.9" stroke="#ff9dcf" stroke-width="1.3"/>
<line x1="514.7" y1="50.07" x2="526.5" y2="50.07" stroke="#ff66bb" stroke-width="1.3"/>
<line x1="514.7" y1="42.23" x2="526.5" y2="42.23" stroke="#f4487a" stroke-width="1.3"/>
<line x1="514.7" y1="34.4" x2="526.5" y2="34.4" stroke="#ff5252" stroke-width="1.3"/>
<line x1="542.7" y1="169" x2="554.3" y2="169" stroke="#707070" stroke-width="1.3"/>
<line x1="542.7" y1="159.12" x2="554.3" y2="159.12" stroke="#9a3535" stroke-width="1.3"/>
<line x1="542.7" y1="149.23" x2="554.3" y2="149.23" stroke="#bb8585" stroke-width="1.3"/>
<line x1="542.7" y1="139.35" x2="554.3" y2="139.35" stroke="#ff9dcf" stroke-width="1.3"/>
<line x1="542.7" y1="129.47" x2="554.3" y2="129.47" stroke="#ff66bb" stroke-width="1.3"/>
<line x1="542.7" y1="119.58" x2="554.3" y2="119.58" stroke="#f4487a" stroke-width="1.3"/>
<line x1="542.7" y1="109.7" x2="554.3" y2="109.7" stroke="#ff5252" stroke-width="1.3"/>
<line x1="571.8" y1="139.9" x2="584.2" y2="139.9" stroke="#707070" stroke-width="1.3"/>
<line x1="571.8" y1="128.22" x2="584.2" y2="128.22" stroke="#9a3535" stroke-width="1.3"/>
<line x1="571.8" y1="116.53" x2="584.2" y2="116.53" stroke="#bb8585" stroke-width="1.3"/>
<line x1="571.8" y1="104.85" x2="584.2" y2="104.85" stroke="#ff9dcf" stroke-width="1.3"/>
<line x1="571.8" y1="93.17" x2="584.2" y2="93.17" stroke="#ff66bb" stroke-width="1.3"/>
<line x1="571.8" y1="81.48" x2="584.2" y2="81.48" stroke="#f4487a" stroke-width="1.3"/>
<line x1="571.8" y1="69.8" x2="584.2" y2="69.8" stroke="#ff5252" stroke-width="1.3"/>
<line x1="600" y1="87.8" x2="611.7" y2="87.8" stroke="#707070" stroke-width="1.3"/>
<line x1="600" y1="81.5" x2="611.7" y2="81.5" stroke="#9a3535" stroke-width="1.3"/>
<line x1="600" y1="75.2" x2="611.7" y2="75.2" stroke="#bb8585" stroke-width="1.3"/>
<line x1="600" y1="68.9" x2="611.7" y2="68.9" stroke="#ff9dcf" stroke-width="1.3"/>
<line x1="600" y1="62.6" x2="611.7" y2="62.6" stroke="#ff66bb" stroke-width="1.3"/>
<line x1="600" y1="56.3" x2="611.7" y2="56.3" stroke="#f4487a" stroke-width="1.3"/>
<line x1="600" y1="50" x2="611.7" y2="50" stroke="#ff5252" stroke-width="1.3"/>
<line x1="600" y1="125.9" x2="611.7" y2="125.9" stroke="#707070" stroke-width="1.3"/>
<line x1="600" y1="117.53" x2="611.7" y2="117.53" stroke="#9a3535" stroke-width="1.3"/>
<line x1="600" y1="109.17" x2="611.7" y2="109.17" stroke="#bb8585" stroke-width="1.3"/>
<line x1="600" y1="100.8" x2="611.7" y2="100.8" stroke="#ff9dcf" stroke-width="1.3"/>
<line x1="600" y1="92.43" x2="611.7" y2="92.43" stroke="#ff66bb" stroke-width="1.3"/>
<line x1="600" y1="84.07" x2="611.7" y2="84.07" stroke="#f4487a" stroke-width="1.3"/>
<line x1="600" y1="75.7" x2="611.7" y2="75.7" stroke="#ff5252" stroke-width="1.3"/>
<line x1="628.9" y1="158.2" x2="640.7" y2="158.2" stroke="#707070" stroke-width="1.3"/>
<line x1="628.9" y1="148.7" x2="640.7" y2="148.7" stroke="#9a3535" stroke-width="1.3"/>
<line x1="628.9" y1="139.2" x2="640.7" y2="139.2" stroke="#bb8585" stroke-width="1.3"/>
<line x1="628.9" y1="129.7" x2="640.7" y2="129.7" stroke="#ff9dcf" stroke-width="1.3"/>
<line x1="628.9" y1="120.2" x2="640.7" y2="120.2" stroke="#ff66bb" stroke-width="1.3"/>
<line x1="628.9" y1="110.7" x2="640.7" y2="110.7" stroke="#f4487a" stroke-width="1.3"/>
<line x1="628.9" y1="101.2" x2="640.7" y2="101.2" stroke="#ff5252" stroke-width="1.3"/>
<line x1="657.2" y1="166.2" x2="668.2" y2="166.2" stroke="#707070" stroke-width="1.3"/>
<line x1="657.2" y1="159.92" x2="668.2" y2="159.92" stroke="#9a3535" stroke-width="1.3"/>
<line x1="657.2" y1="153.63" x2="668.2" y2="153.63" stroke="#bb8585" stroke-width="1.3"/>
<line x1="657.2" y1="147.35" x2="668.2" y2="147.35" stroke="#ff9dcf" stroke-width="1.3"/>
<line x1="657.2" y1="141.07" x2="668.2" y2="141.07" stroke="#ff66bb" stroke-width="1.3"/>
<line x1="657.2" y1="134.78" x2="668.2" y2="134.78" stroke="#f4487a" stroke-width="1.3"/>
<line x1="657.2" y1="128.5" x2="668.2" y2="128.5" stroke="#ff5252" stroke-width="1.3"/>
<rect x="360.5" y="2.9" width="322.4" height="203.1" fill="none" stroke="#666" stroke-width="1.3" rx="0.8"/>
<line x1="360.5" y1="199.8" x2="361.7" y2="199.8" stroke="#444" stroke-width="0.5"/>
<line x1="360.5" y1="187.5" x2="362.1" y2="187.5" stroke="#444" stroke-width="0.5"/>
<text x="358.5" y="189.08" font-size="4.8" text-anchor="end" fill="#444" >-1.6</text>
<line x1="360.5" y1="175.2" x2="361.7" y2="175.2" stroke="#444" stroke-width="0.5"/>
<line x1="360.5" y1="162.9" x2="362.1" y2="162.9" stroke="#444" stroke-width="0.5"/>
<text x="358.5" y="164.48" font-size="4.8" text-anchor="end" fill="#444" >-1.2</text>
<line x1="360.5" y1="150.6" x2="361.7" y2="150.6" stroke="#444" stroke-width="0.5"/>
<line x1="360.5" y1="138.3" x2="362.1" y2="138.3" stroke="#444" stroke-width="0.5"/>
<text x="358.5" y="139.88" font-size="4.8" text-anchor="end" fill="#444" >-0.8</text>
<line x1="360.5" y1="126" x2="361.7" y2="126" stroke="#444" stroke-width="0.5"/>
<line x1="360.5" y1="113.7" x2="362.1" y2="113.7" stroke="#444" stroke-width="0.5"/>
<text x="358.5" y="115.28" font-size="4.8" text-anchor="end" fill="#444" >-0.4</text>
<line x1="360.5" y1="101.4" x2="361.7" y2="101.4" stroke="#444" stroke-width="0.5"/>
<line x1="360.5" y1="89.1" x2="362.1" y2="89.1" stroke="#444" stroke-width="0.5"/>
<text x="358.5" y="90.68" font-size="4.8" text-anchor="end" fill="#444" >0.0</text>
<line x1="360.5" y1="76.8" x2="361.7" y2="76.8" stroke="#444" stroke-width="0.5"/>
<line x1="360.5" y1="64.5" x2="362.1" y2="64.5" stroke="#444" stroke-width="0.5"/>
<text x="358.5" y="66.08" font-size="4.8" text-anchor="end" fill="#444" >0.4</text>
<line x1="360.5" y1="52.2" x2="361.7" y2="52.2" stroke="#444" stroke-width="0.5"/>
<line x1="360.5" y1="39.9" x2="362.1" y2="39.9" stroke="#444" stroke-width="0.5"/>
<text x="358.5" y="41.48" font-size="4.8" text-anchor="end" fill="#444" >0.8</text>
<line x1="360.5" y1="27.6" x2="361.7" y2="27.6" stroke="#444" stroke-width="0.5"/>
<line x1="360.5" y1="15.3" x2="362.1" y2="15.3" stroke="#444" stroke-width="0.5"/>
<text x="358.5" y="16.88" font-size="4.8" text-anchor="end" fill="#444" >1.2</text>
<line x1="377.5" y1="205.7" x2="377.5" y2="207.3" stroke="#444" stroke-width="0.6"/>
<line x1="406.1" y1="205.7" x2="406.1" y2="207.3" stroke="#444" stroke-width="0.6"/>
<line x1="434.7" y1="205.7" x2="434.7" y2="207.3" stroke="#444" stroke-width="0.6"/>
<line x1="463.3" y1="205.7" x2="463.3" y2="207.3" stroke="#444" stroke-width="0.6"/>
<line x1="491.9" y1="205.7" x2="491.9" y2="207.3" stroke="#444" stroke-width="0.6"/>
<line x1="520.5" y1="205.7" x2="520.5" y2="207.3" stroke="#444" stroke-width="0.6"/>
<line x1="549.1" y1="205.7" x2="549.1" y2="207.3" stroke="#444" stroke-width="0.6"/>
<line x1="577.7" y1="205.7" x2="577.7" y2="207.3" stroke="#444" stroke-width="0.6"/>
<line x1="606.3" y1="205.7" x2="606.3" y2="207.3" stroke="#444" stroke-width="0.6"/>
<line x1="634.9" y1="205.7" x2="634.9" y2="207.3" stroke="#444" stroke-width="0.6"/>
<line x1="663.5" y1="205.7" x2="663.5" y2="207.3" stroke="#444" stroke-width="0.6"/>
<rect x="56.3" y="228.9" width="74.2" height="142.7" fill="none" stroke="#d6d6d6" stroke-width="0.75"/>
<rect x="138.6" y="269.7" width="48.6" height="97.3" fill="none" stroke="#d6d6d6" stroke-width="0.75"/>
<line x1="43" y1="327.2" x2="59.2" y2="330.2" stroke="#555555" stroke-width="0.6" stroke-dasharray="1.3,1.0"/>
<line x1="43" y1="327.2" x2="59.2" y2="326.45" stroke="#903030" stroke-width="0.6" stroke-dasharray="1.3,1.0"/>
<line x1="43" y1="327.2" x2="59.2" y2="322.7" stroke="#a07070" stroke-width="0.6" stroke-dasharray="1.3,1.0"/>
<line x1="43" y1="327.2" x2="59.2" y2="318.95" stroke="#ff99cc" stroke-width="0.6" stroke-dasharray="1.3,1.0"/>
<line x1="43" y1="327.2" x2="59.2" y2="315.2" stroke="#ff66bb" stroke-width="0.6" stroke-dasharray="1.3,1.0"/>
<line x1="43" y1="327.2" x2="59.2" y2="311.45" stroke="#f5507a" stroke-width="0.6"/>
<line x1="43" y1="327.2" x2="59.2" y2="307.7" stroke="#ff3030" stroke-width="0.6"/>
<line x1="70.9" y1="330.2" x2="87.1" y2="270.3" stroke="#555555" stroke-width="0.6" stroke-dasharray="1.3,1.0"/>
<line x1="70.9" y1="326.45" x2="87.1" y2="263.95" stroke="#903030" stroke-width="0.6" stroke-dasharray="1.3,1.0"/>
<line x1="70.9" y1="322.7" x2="87.1" y2="257.6" stroke="#a07070" stroke-width="0.6" stroke-dasharray="1.3,1.0"/>
<line x1="70.9" y1="318.95" x2="87.1" y2="251.25" stroke="#ff99cc" stroke-width="0.6" stroke-dasharray="1.3,1.0"/>
<line x1="70.9" y1="315.2" x2="87.1" y2="244.9" stroke="#ff66bb" stroke-width="0.6"/>
<line x1="70.9" y1="311.45" x2="87.1" y2="238.55" stroke="#f5507a" stroke-width="0.6"/>
<line x1="70.9" y1="307.7" x2="87.1" y2="232.2" stroke="#ff3030" stroke-width="0.6"/>
<line x1="70.9" y1="330.2" x2="87.1" y2="367.3" stroke="#555555" stroke-width="0.6" stroke-dasharray="1.3,1.0"/>
<line x1="70.9" y1="326.45" x2="87.1" y2="361.05" stroke="#903030" stroke-width="0.6" stroke-dasharray="1.3,1.0"/>
<line x1="70.9" y1="322.7" x2="87.1" y2="354.8" stroke="#a07070" stroke-width="0.6" stroke-dasharray="1.3,1.0"/>
<line x1="70.9" y1="318.95" x2="87.1" y2="348.55" stroke="#ff99cc" stroke-width="0.6"/>
<line x1="70.9" y1="315.2" x2="87.1" y2="342.3" stroke="#ff66bb" stroke-width="0.6"/>
<line x1="70.9" y1="311.45" x2="87.1" y2="336.05" stroke="#f5507a" stroke-width="0.6"/>
<line x1="70.9" y1="307.7" x2="87.1" y2="329.8" stroke="#ff3030" stroke-width="0.6"/>
<line x1="99.2" y1="270.3" x2="115.8" y2="288.8" stroke="#555555" stroke-width="0.6"/>
<line x1="99.2" y1="263.95" x2="115.8" y2="286.72" stroke="#903030" stroke-width="0.6"/>
<line x1="99.2" y1="257.6" x2="115.8" y2="284.63" stroke="#a07070" stroke-width="0.6"/>
<line x1="99.2" y1="251.25" x2="115.8" y2="282.55" stroke="#ff99cc" stroke-width="0.6" stroke-dasharray="1.3,1.0"/>
<line x1="99.2" y1="244.9" x2="115.8" y2="280.47" stroke="#ff66bb" stroke-width="0.6" stroke-dasharray="1.3,1.0"/>
<line x1="99.2" y1="238.55" x2="115.8" y2="278.38" stroke="#f5507a" stroke-width="0.6" stroke-dasharray="1.3,1.0"/>
<line x1="99.2" y1="232.2" x2="115.8" y2="276.3" stroke="#ff3030" stroke-width="0.6"/>
<line x1="127.5" y1="288.8" x2="143.9" y2="297.7" stroke="#555555" stroke-width="0.6"/>
<line x1="127.5" y1="286.72" x2="143.9" y2="298.95" stroke="#903030" stroke-width="0.6"/>
<line x1="127.5" y1="284.63" x2="143.9" y2="300.2" stroke="#a07070" stroke-width="0.6"/>
<line x1="127.5" y1="282.55" x2="143.9" y2="301.45" stroke="#ff99cc" stroke-width="0.6"/>
<line x1="127.5" y1="280.47" x2="143.9" y2="302.7" stroke="#ff66bb" stroke-width="0.6"/>
<line x1="127.5" y1="278.38" x2="143.9" y2="303.95" stroke="#f5507a" stroke-width="0.6"/>
<line x1="127.5" y1="276.3" x2="143.9" y2="305.2" stroke="#ff3030" stroke-width="0.6"/>
<line x1="99.2" y1="367.3" x2="115.8" y2="327.4" stroke="#555555" stroke-width="0.6"/>
<line x1="99.2" y1="361.05" x2="115.8" y2="319.4" stroke="#903030" stroke-width="0.6"/>
<line x1="99.2" y1="354.8" x2="115.8" y2="311.4" stroke="#a07070" stroke-width="0.6"/>
<line x1="99.2" y1="348.55" x2="115.8" y2="303.4" stroke="#ff99cc" stroke-width="0.6" stroke-dasharray="1.3,1.0"/>
<line x1="99.2" y1="342.3" x2="115.8" y2="295.4" stroke="#ff66bb" stroke-width="0.6" stroke-dasharray="1.3,1.0"/>
<line x1="99.2" y1="336.05" x2="115.8" y2="287.4" stroke="#f5507a" stroke-width="0.6" stroke-dasharray="1.3,1.0"/>
<line x1="99.2" y1="329.8" x2="115.8" y2="279.4" stroke="#ff3030" stroke-width="0.6" stroke-dasharray="1.3,1.0"/>
<line x1="127.5" y1="327.4" x2="143.5" y2="363.9" stroke="#555555" stroke-width="0.6"/>
<line x1="127.5" y1="319.4" x2="143.5" y2="354.75" stroke="#903030" stroke-width="0.6"/>
<line x1="127.5" y1="311.4" x2="143.5" y2="345.6" stroke="#a07070" stroke-width="0.6"/>
<line x1="127.5" y1="303.4" x2="143.5" y2="336.45" stroke="#ff99cc" stroke-width="0.6"/>
<line x1="127.5" y1="295.4" x2="143.5" y2="327.3" stroke="#ff66bb" stroke-width="0.6"/>
<line x1="127.5" y1="287.4" x2="143.5" y2="318.15" stroke="#f5507a" stroke-width="0.6"/>
<line x1="127.5" y1="279.4" x2="143.5" y2="309" stroke="#ff3030" stroke-width="0.6"/>
<line x1="155.5" y1="363.9" x2="172.1" y2="311.2" stroke="#555555" stroke-width="0.6"/>
<line x1="155.5" y1="354.75" x2="172.1" y2="304.62" stroke="#903030" stroke-width="0.6"/>
<line x1="155.5" y1="345.6" x2="172.1" y2="298.03" stroke="#a07070" stroke-width="0.6"/>
<line x1="155.5" y1="336.45" x2="172.1" y2="291.45" stroke="#ff99cc" stroke-width="0.6"/>
<line x1="155.5" y1="327.3" x2="172.1" y2="284.87" stroke="#ff66bb" stroke-width="0.6"/>
<line x1="155.5" y1="318.15" x2="172.1" y2="278.28" stroke="#f5507a" stroke-width="0.6"/>
<line x1="155.5" y1="309" x2="172.1" y2="271.7" stroke="#ff3030" stroke-width="0.6"/>
<line x1="184.1" y1="311.2" x2="200.1" y2="381.9" stroke="#555555" stroke-width="0.6" stroke-dasharray="1.3,1.0"/>
<line x1="184.1" y1="304.62" x2="200.1" y2="373.13" stroke="#903030" stroke-width="0.6" stroke-dasharray="1.3,1.0"/>
<line x1="184.1" y1="298.03" x2="200.1" y2="364.37" stroke="#a07070" stroke-width="0.6" stroke-dasharray="1.3,1.0"/>
<line x1="184.1" y1="291.45" x2="200.1" y2="355.6" stroke="#ff99cc" stroke-width="0.6" stroke-dasharray="1.3,1.0"/>
<line x1="184.1" y1="284.87" x2="200.1" y2="346.83" stroke="#ff66bb" stroke-width="0.6" stroke-dasharray="1.3,1.0"/>
<line x1="184.1" y1="278.28" x2="200.1" y2="338.07" stroke="#f5507a" stroke-width="0.6" stroke-dasharray="1.3,1.0"/>
<line x1="184.1" y1="271.7" x2="200.1" y2="329.3" stroke="#ff3030" stroke-width="0.6" stroke-dasharray="1.3,1.0"/>
<line x1="212.1" y1="381.9" x2="228.6" y2="355" stroke="#555555" stroke-width="0.6"/>
<line x1="212.1" y1="373.13" x2="228.6" y2="344.5" stroke="#903030" stroke-width="0.6"/>
<line x1="212.1" y1="364.37" x2="228.6" y2="334" stroke="#a07070" stroke-width="0.6"/>
<line x1="212.1" y1="355.6" x2="228.6" y2="323.5" stroke="#ff99cc" stroke-width="0.6"/>
<line x1="212.1" y1="346.83" x2="228.6" y2="313" stroke="#ff66bb" stroke-width="0.6"/>
<line x1="212.1" y1="338.07" x2="228.6" y2="302.5" stroke="#f5507a" stroke-width="0.6"/>
<line x1="212.1" y1="329.3" x2="228.6" y2="292" stroke="#ff3030" stroke-width="0.6"/>
<line x1="240.6" y1="355" x2="256.9" y2="324.4" stroke="#555555" stroke-width="0.6"/>
<line x1="240.6" y1="344.5" x2="256.9" y2="315.9" stroke="#903030" stroke-width="0.6"/>
<line x1="240.6" y1="334" x2="256.9" y2="307.4" stroke="#a07070" stroke-width="0.6"/>
<line x1="240.6" y1="323.5" x2="256.9" y2="298.9" stroke="#ff99cc" stroke-width="0.6"/>
<line x1="240.6" y1="313" x2="256.9" y2="290.4" stroke="#ff66bb" stroke-width="0.6"/>
<line x1="240.6" y1="302.5" x2="256.9" y2="281.9" stroke="#f5507a" stroke-width="0.6"/>
<line x1="240.6" y1="292" x2="256.9" y2="273.4" stroke="#ff3030" stroke-width="0.6"/>
<line x1="240.6" y1="355" x2="256.9" y2="326.1" stroke="#555555" stroke-width="0.6"/>
<line x1="240.6" y1="344.5" x2="256.9" y2="321.12" stroke="#903030" stroke-width="0.6"/>
<line x1="240.6" y1="334" x2="256.9" y2="316.13" stroke="#a07070" stroke-width="0.6"/>
<line x1="240.6" y1="323.5" x2="256.9" y2="311.15" stroke="#ff99cc" stroke-width="0.6"/>
<line x1="240.6" y1="313" x2="256.9" y2="306.17" stroke="#ff66bb" stroke-width="0.6"/>
<line x1="240.6" y1="302.5" x2="256.9" y2="301.18" stroke="#f5507a" stroke-width="0.6"/>
<line x1="240.6" y1="292" x2="256.9" y2="296.2" stroke="#ff3030" stroke-width="0.6"/>
<line x1="268.9" y1="324.4" x2="285" y2="391.5" stroke="#555555" stroke-width="0.6" stroke-dasharray="1.3,1.0"/>
<line x1="268.9" y1="315.9" x2="285" y2="381.8" stroke="#903030" stroke-width="0.6" stroke-dasharray="1.3,1.0"/>
<line x1="268.9" y1="307.4" x2="285" y2="372.1" stroke="#a07070" stroke-width="0.6" stroke-dasharray="1.3,1.0"/>
<line x1="268.9" y1="298.9" x2="285" y2="362.4" stroke="#ff99cc" stroke-width="0.6" stroke-dasharray="1.3,1.0"/>
<line x1="268.9" y1="290.4" x2="285" y2="352.7" stroke="#ff66bb" stroke-width="0.6" stroke-dasharray="1.3,1.0"/>
<line x1="268.9" y1="281.9" x2="285" y2="343" stroke="#f5507a" stroke-width="0.6" stroke-dasharray="1.3,1.0"/>
<line x1="268.9" y1="273.4" x2="285" y2="333.3" stroke="#ff3030" stroke-width="0.6" stroke-dasharray="1.3,1.0"/>
<line x1="297" y1="391.5" x2="313.5" y2="399.6" stroke="#555555" stroke-width="0.6"/>
<line x1="297" y1="381.8" x2="313.5" y2="393.77" stroke="#903030" stroke-width="0.6"/>
<line x1="297" y1="372.1" x2="313.5" y2="387.93" stroke="#a07070" stroke-width="0.6"/>
<line x1="297" y1="362.4" x2="313.5" y2="382.1" stroke="#ff99cc" stroke-width="0.6"/>
<line x1="297" y1="352.7" x2="313.5" y2="376.27" stroke="#ff66bb" stroke-width="0.6"/>
<line x1="297" y1="343" x2="313.5" y2="370.43" stroke="#f5507a" stroke-width="0.6"/>
<line x1="297" y1="333.3" x2="313.5" y2="364.6" stroke="#ff3030" stroke-width="0.6"/>
<line x1="31.3" y1="327.2" x2="43" y2="327.2" stroke="#707070" stroke-width="1.3"/>
<line x1="31.3" y1="327.2" x2="43" y2="327.2" stroke="#9a3535" stroke-width="1.3"/>
<line x1="31.3" y1="327.2" x2="43" y2="327.2" stroke="#bb8585" stroke-width="1.3"/>
<line x1="31.3" y1="327.2" x2="43" y2="327.2" stroke="#ff9dcf" stroke-width="1.3"/>
<line x1="31.3" y1="327.2" x2="43" y2="327.2" stroke="#ff66bb" stroke-width="1.3"/>
<line x1="31.3" y1="327.2" x2="43" y2="327.2" stroke="#f4487a" stroke-width="1.3"/>
<line x1="31.3" y1="327.2" x2="43" y2="327.2" stroke="#ff5252" stroke-width="1.3"/>
<line x1="59.2" y1="330.2" x2="70.9" y2="330.2" stroke="#707070" stroke-width="1.3"/>
<line x1="59.2" y1="326.45" x2="70.9" y2="326.45" stroke="#9a3535" stroke-width="1.3"/>
<line x1="59.2" y1="322.7" x2="70.9" y2="322.7" stroke="#bb8585" stroke-width="1.3"/>
<line x1="59.2" y1="318.95" x2="70.9" y2="318.95" stroke="#ff9dcf" stroke-width="1.3"/>
<line x1="59.2" y1="315.2" x2="70.9" y2="315.2" stroke="#ff66bb" stroke-width="1.3"/>
<line x1="59.2" y1="311.45" x2="70.9" y2="311.45" stroke="#f4487a" stroke-width="1.3"/>
<line x1="59.2" y1="307.7" x2="70.9" y2="307.7" stroke="#ff5252" stroke-width="1.3"/>
<line x1="87.1" y1="270.3" x2="99.2" y2="270.3" stroke="#707070" stroke-width="1.3"/>
<line x1="87.1" y1="263.95" x2="99.2" y2="263.95" stroke="#9a3535" stroke-width="1.3"/>
<line x1="87.1" y1="257.6" x2="99.2" y2="257.6" stroke="#bb8585" stroke-width="1.3"/>
<line x1="87.1" y1="251.25" x2="99.2" y2="251.25" stroke="#ff9dcf" stroke-width="1.3"/>
<line x1="87.1" y1="244.9" x2="99.2" y2="244.9" stroke="#ff66bb" stroke-width="1.3"/>
<line x1="87.1" y1="238.55" x2="99.2" y2="238.55" stroke="#f4487a" stroke-width="1.3"/>
<line x1="87.1" y1="232.2" x2="99.2" y2="232.2" stroke="#ff5252" stroke-width="1.3"/>
<line x1="87.1" y1="367.3" x2="99.2" y2="367.3" stroke="#707070" stroke-width="1.3"/>
<line x1="87.1" y1="361.05" x2="99.2" y2="361.05" stroke="#9a3535" stroke-width="1.3"/>
<line x1="87.1" y1="354.8" x2="99.2" y2="354.8" stroke="#bb8585" stroke-width="1.3"/>
<line x1="87.1" y1="348.55" x2="99.2" y2="348.55" stroke="#ff9dcf" stroke-width="1.3"/>
<line x1="87.1" y1="342.3" x2="99.2" y2="342.3" stroke="#ff66bb" stroke-width="1.3"/>
<line x1="87.1" y1="336.05" x2="99.2" y2="336.05" stroke="#f4487a" stroke-width="1.3"/>
<line x1="87.1" y1="329.8" x2="99.2" y2="329.8" stroke="#ff5252" stroke-width="1.3"/>
<line x1="115.8" y1="288.8" x2="127.5" y2="288.8" stroke="#707070" stroke-width="1.3"/>
<line x1="115.8" y1="286.72" x2="127.5" y2="286.72" stroke="#9a3535" stroke-width="1.3"/>
<line x1="115.8" y1="284.63" x2="127.5" y2="284.63" stroke="#bb8585" stroke-width="1.3"/>
<line x1="115.8" y1="282.55" x2="127.5" y2="282.55" stroke="#ff9dcf" stroke-width="1.3"/>
<line x1="115.8" y1="280.47" x2="127.5" y2="280.47" stroke="#ff66bb" stroke-width="1.3"/>
<line x1="115.8" y1="278.38" x2="127.5" y2="278.38" stroke="#f4487a" stroke-width="1.3"/>
<line x1="115.8" y1="276.3" x2="127.5" y2="276.3" stroke="#ff5252" stroke-width="1.3"/>
<line x1="115.8" y1="327.4" x2="127.5" y2="327.4" stroke="#707070" stroke-width="1.3"/>
<line x1="115.8" y1="319.4" x2="127.5" y2="319.4" stroke="#9a3535" stroke-width="1.3"/>
<line x1="115.8" y1="311.4" x2="127.5" y2="311.4" stroke="#bb8585" stroke-width="1.3"/>
<line x1="115.8" y1="303.4" x2="127.5" y2="303.4" stroke="#ff9dcf" stroke-width="1.3"/>
<line x1="115.8" y1="295.4" x2="127.5" y2="295.4" stroke="#ff66bb" stroke-width="1.3"/>
<line x1="115.8" y1="287.4" x2="127.5" y2="287.4" stroke="#f4487a" stroke-width="1.3"/>
<line x1="115.8" y1="279.4" x2="127.5" y2="279.4" stroke="#ff5252" stroke-width="1.3"/>
<line x1="143.9" y1="297.7" x2="154.9" y2="297.7" stroke="#707070" stroke-width="1.3"/>
<line x1="143.9" y1="298.95" x2="154.9" y2="298.95" stroke="#9a3535" stroke-width="1.3"/>
<line x1="143.9" y1="300.2" x2="154.9" y2="300.2" stroke="#bb8585" stroke-width="1.3"/>
<line x1="143.9" y1="301.45" x2="154.9" y2="301.45" stroke="#ff9dcf" stroke-width="1.3"/>
<line x1="143.9" y1="302.7" x2="154.9" y2="302.7" stroke="#ff66bb" stroke-width="1.3"/>
<line x1="143.9" y1="303.95" x2="154.9" y2="303.95" stroke="#f4487a" stroke-width="1.3"/>
<line x1="143.9" y1="305.2" x2="154.9" y2="305.2" stroke="#ff5252" stroke-width="1.3"/>
<line x1="143.5" y1="363.9" x2="155.5" y2="363.9" stroke="#707070" stroke-width="1.3"/>
<line x1="143.5" y1="354.75" x2="155.5" y2="354.75" stroke="#9a3535" stroke-width="1.3"/>
<line x1="143.5" y1="345.6" x2="155.5" y2="345.6" stroke="#bb8585" stroke-width="1.3"/>
<line x1="143.5" y1="336.45" x2="155.5" y2="336.45" stroke="#ff9dcf" stroke-width="1.3"/>
<line x1="143.5" y1="327.3" x2="155.5" y2="327.3" stroke="#ff66bb" stroke-width="1.3"/>
<line x1="143.5" y1="318.15" x2="155.5" y2="318.15" stroke="#f4487a" stroke-width="1.3"/>
<line x1="143.5" y1="309" x2="155.5" y2="309" stroke="#ff5252" stroke-width="1.3"/>
<line x1="172.1" y1="311.2" x2="184.1" y2="311.2" stroke="#707070" stroke-width="1.3"/>
<line x1="172.1" y1="304.62" x2="184.1" y2="304.62" stroke="#9a3535" stroke-width="1.3"/>
<line x1="172.1" y1="298.03" x2="184.1" y2="298.03" stroke="#bb8585" stroke-width="1.3"/>
<line x1="172.1" y1="291.45" x2="184.1" y2="291.45" stroke="#ff9dcf" stroke-width="1.3"/>
<line x1="172.1" y1="284.87" x2="184.1" y2="284.87" stroke="#ff66bb" stroke-width="1.3"/>
<line x1="172.1" y1="278.28" x2="184.1" y2="278.28" stroke="#f4487a" stroke-width="1.3"/>
<line x1="172.1" y1="271.7" x2="184.1" y2="271.7" stroke="#ff5252" stroke-width="1.3"/>
<line x1="200.1" y1="381.9" x2="212.1" y2="381.9" stroke="#707070" stroke-width="1.3"/>
<line x1="200.1" y1="373.13" x2="212.1" y2="373.13" stroke="#9a3535" stroke-width="1.3"/>
<line x1="200.1" y1="364.37" x2="212.1" y2="364.37" stroke="#bb8585" stroke-width="1.3"/>
<line x1="200.1" y1="355.6" x2="212.1" y2="355.6" stroke="#ff9dcf" stroke-width="1.3"/>
<line x1="200.1" y1="346.83" x2="212.1" y2="346.83" stroke="#ff66bb" stroke-width="1.3"/>
<line x1="200.1" y1="338.07" x2="212.1" y2="338.07" stroke="#f4487a" stroke-width="1.3"/>
<line x1="200.1" y1="329.3" x2="212.1" y2="329.3" stroke="#ff5252" stroke-width="1.3"/>
<line x1="228.6" y1="355" x2="240.6" y2="355" stroke="#707070" stroke-width="1.3"/>
<line x1="228.6" y1="344.5" x2="240.6" y2="344.5" stroke="#9a3535" stroke-width="1.3"/>
<line x1="228.6" y1="334" x2="240.6" y2="334" stroke="#bb8585" stroke-width="1.3"/>
<line x1="228.6" y1="323.5" x2="240.6" y2="323.5" stroke="#ff9dcf" stroke-width="1.3"/>
<line x1="228.6" y1="313" x2="240.6" y2="313" stroke="#ff66bb" stroke-width="1.3"/>
<line x1="228.6" y1="302.5" x2="240.6" y2="302.5" stroke="#f4487a" stroke-width="1.3"/>
<line x1="228.6" y1="292" x2="240.6" y2="292" stroke="#ff5252" stroke-width="1.3"/>
<line x1="256.9" y1="324.4" x2="268.9" y2="324.4" stroke="#707070" stroke-width="1.3"/>
<line x1="256.9" y1="315.9" x2="268.9" y2="315.9" stroke="#9a3535" stroke-width="1.3"/>
<line x1="256.9" y1="307.4" x2="268.9" y2="307.4" stroke="#bb8585" stroke-width="1.3"/>
<line x1="256.9" y1="298.9" x2="268.9" y2="298.9" stroke="#ff9dcf" stroke-width="1.3"/>
<line x1="256.9" y1="290.4" x2="268.9" y2="290.4" stroke="#ff66bb" stroke-width="1.3"/>
<line x1="256.9" y1="281.9" x2="268.9" y2="281.9" stroke="#f4487a" stroke-width="1.3"/>
<line x1="256.9" y1="273.4" x2="268.9" y2="273.4" stroke="#ff5252" stroke-width="1.3"/>
<line x1="256.9" y1="326.1" x2="268.9" y2="326.1" stroke="#707070" stroke-width="1.3"/>
<line x1="256.9" y1="321.12" x2="268.9" y2="321.12" stroke="#9a3535" stroke-width="1.3"/>
<line x1="256.9" y1="316.13" x2="268.9" y2="316.13" stroke="#bb8585" stroke-width="1.3"/>
<line x1="256.9" y1="311.15" x2="268.9" y2="311.15" stroke="#ff9dcf" stroke-width="1.3"/>
<line x1="256.9" y1="306.17" x2="268.9" y2="306.17" stroke="#ff66bb" stroke-width="1.3"/>
<line x1="256.9" y1="301.18" x2="268.9" y2="301.18" stroke="#f4487a" stroke-width="1.3"/>
<line x1="256.9" y1="296.2" x2="268.9" y2="296.2" stroke="#ff5252" stroke-width="1.3"/>
<line x1="285" y1="391.5" x2="297" y2="391.5" stroke="#707070" stroke-width="1.3"/>
<line x1="285" y1="381.8" x2="297" y2="381.8" stroke="#9a3535" stroke-width="1.3"/>
<line x1="285" y1="372.1" x2="297" y2="372.1" stroke="#bb8585" stroke-width="1.3"/>
<line x1="285" y1="362.4" x2="297" y2="362.4" stroke="#ff9dcf" stroke-width="1.3"/>
<line x1="285" y1="352.7" x2="297" y2="352.7" stroke="#ff66bb" stroke-width="1.3"/>
<line x1="285" y1="343" x2="297" y2="343" stroke="#f4487a" stroke-width="1.3"/>
<line x1="285" y1="333.3" x2="297" y2="333.3" stroke="#ff5252" stroke-width="1.3"/>
<line x1="313.5" y1="399.6" x2="325.1" y2="399.6" stroke="#707070" stroke-width="1.3"/>
<line x1="313.5" y1="393.77" x2="325.1" y2="393.77" stroke="#9a3535" stroke-width="1.3"/>
<line x1="313.5" y1="387.93" x2="325.1" y2="387.93" stroke="#bb8585" stroke-width="1.3"/>
<line x1="313.5" y1="382.1" x2="325.1" y2="382.1" stroke="#ff9dcf" stroke-width="1.3"/>
<line x1="313.5" y1="376.27" x2="325.1" y2="376.27" stroke="#ff66bb" stroke-width="1.3"/>
<line x1="313.5" y1="370.43" x2="325.1" y2="370.43" stroke="#f4487a" stroke-width="1.3"/>
<line x1="313.5" y1="364.6" x2="325.1" y2="364.6" stroke="#ff5252" stroke-width="1.3"/>
<rect x="16.6" y="222.7" width="322.6" height="202.9" fill="none" stroke="#666" stroke-width="1.3" rx="0.8"/>
<line x1="16.6" y1="419.9" x2="18.2" y2="419.9" stroke="#444" stroke-width="0.5"/>
<text x="14.6" y="421.48" font-size="4.8" text-anchor="end" fill="#444" >-1.6</text>
<line x1="16.6" y1="408.3" x2="17.8" y2="408.3" stroke="#444" stroke-width="0.5"/>
<line x1="16.6" y1="396.7" x2="18.2" y2="396.7" stroke="#444" stroke-width="0.5"/>
<text x="14.6" y="398.28" font-size="4.8" text-anchor="end" fill="#444" >-1.2</text>
<line x1="16.6" y1="385.1" x2="17.8" y2="385.1" stroke="#444" stroke-width="0.5"/>
<line x1="16.6" y1="373.5" x2="18.2" y2="373.5" stroke="#444" stroke-width="0.5"/>
<text x="14.6" y="375.08" font-size="4.8" text-anchor="end" fill="#444" >-0.8</text>
<line x1="16.6" y1="361.9" x2="17.8" y2="361.9" stroke="#444" stroke-width="0.5"/>
<line x1="16.6" y1="350.3" x2="18.2" y2="350.3" stroke="#444" stroke-width="0.5"/>
<text x="14.6" y="351.88" font-size="4.8" text-anchor="end" fill="#444" >-0.4</text>
<line x1="16.6" y1="338.7" x2="17.8" y2="338.7" stroke="#444" stroke-width="0.5"/>
<line x1="16.6" y1="327.1" x2="18.2" y2="327.1" stroke="#444" stroke-width="0.5"/>
<text x="14.6" y="328.68" font-size="4.8" text-anchor="end" fill="#444" >0.0</text>
<line x1="16.6" y1="315.5" x2="17.8" y2="315.5" stroke="#444" stroke-width="0.5"/>
<line x1="16.6" y1="303.9" x2="18.2" y2="303.9" stroke="#444" stroke-width="0.5"/>
<text x="14.6" y="305.48" font-size="4.8" text-anchor="end" fill="#444" >0.4</text>
<line x1="16.6" y1="292.3" x2="17.8" y2="292.3" stroke="#444" stroke-width="0.5"/>
<line x1="16.6" y1="280.7" x2="18.2" y2="280.7" stroke="#444" stroke-width="0.5"/>
<text x="14.6" y="282.28" font-size="4.8" text-anchor="end" fill="#444" >0.8</text>
<line x1="16.6" y1="269.1" x2="17.8" y2="269.1" stroke="#444" stroke-width="0.5"/>
<line x1="16.6" y1="257.5" x2="18.2" y2="257.5" stroke="#444" stroke-width="0.5"/>
<text x="14.6" y="259.08" font-size="4.8" text-anchor="end" fill="#444" >1.2</text>
<line x1="16.6" y1="245.9" x2="17.8" y2="245.9" stroke="#444" stroke-width="0.5"/>
<line x1="16.6" y1="234.3" x2="18.2" y2="234.3" stroke="#444" stroke-width="0.5"/>
<text x="14.6" y="235.88" font-size="4.8" text-anchor="end" fill="#444" >1.6</text>
<line x1="37.1" y1="425.3" x2="37.1" y2="426.9" stroke="#444" stroke-width="0.6"/>
<line x1="65.3" y1="425.3" x2="65.3" y2="426.9" stroke="#444" stroke-width="0.6"/>
<line x1="93.5" y1="425.3" x2="93.5" y2="426.9" stroke="#444" stroke-width="0.6"/>
<line x1="121.7" y1="425.3" x2="121.7" y2="426.9" stroke="#444" stroke-width="0.6"/>
<line x1="149.9" y1="425.3" x2="149.9" y2="426.9" stroke="#444" stroke-width="0.6"/>
<line x1="178.1" y1="425.3" x2="178.1" y2="426.9" stroke="#444" stroke-width="0.6"/>
<line x1="206.3" y1="425.3" x2="206.3" y2="426.9" stroke="#444" stroke-width="0.6"/>
<line x1="234.5" y1="425.3" x2="234.5" y2="426.9" stroke="#444" stroke-width="0.6"/>
<line x1="262.7" y1="425.3" x2="262.7" y2="426.9" stroke="#444" stroke-width="0.6"/>
<line x1="290.9" y1="425.3" x2="290.9" y2="426.9" stroke="#444" stroke-width="0.6"/>
<line x1="319.1" y1="425.3" x2="319.1" y2="426.9" stroke="#444" stroke-width="0.6"/>
<rect x="370.2" y="268.4" width="43.1" height="35" fill="none" stroke="#d6d6d6" stroke-width="0.75"/>
<rect x="425.4" y="237.9" width="48.6" height="68.3" fill="none" stroke="#d6d6d6" stroke-width="0.75"/>
<rect x="542.5" y="234.5" width="74.3" height="161.9" fill="none" stroke="#d6d6d6" stroke-width="0.75"/>
<line x1="384" y1="299.5" x2="400.3" y2="298.3" stroke="#555555" stroke-width="0.6" stroke-dasharray="1.3,1.0"/>
<line x1="384" y1="299.5" x2="400.3" y2="293.82" stroke="#903030" stroke-width="0.6" stroke-dasharray="1.3,1.0"/>
<line x1="384" y1="299.5" x2="400.3" y2="289.33" stroke="#a07070" stroke-width="0.6"/>
<line x1="384" y1="299.5" x2="400.3" y2="284.85" stroke="#ff99cc" stroke-width="0.6"/>
<line x1="384" y1="299.5" x2="400.3" y2="280.37" stroke="#ff66bb" stroke-width="0.6"/>
<line x1="384" y1="299.5" x2="400.3" y2="275.88" stroke="#f5507a" stroke-width="0.6"/>
<line x1="384" y1="299.5" x2="400.3" y2="271.4" stroke="#ff3030" stroke-width="0.6"/>
<line x1="412.4" y1="298.3" x2="429.1" y2="303.4" stroke="#555555" stroke-width="0.6" stroke-dasharray="1.3,1.0"/>
<line x1="412.4" y1="293.82" x2="429.1" y2="295.57" stroke="#903030" stroke-width="0.6" stroke-dasharray="1.3,1.0"/>
<line x1="412.4" y1="289.33" x2="429.1" y2="287.73" stroke="#a07070" stroke-width="0.6" stroke-dasharray="1.3,1.0"/>
<line x1="412.4" y1="284.85" x2="429.1" y2="279.9" stroke="#ff99cc" stroke-width="0.6" stroke-dasharray="1.3,1.0"/>
<line x1="412.4" y1="280.37" x2="429.1" y2="272.07" stroke="#ff66bb" stroke-width="0.6"/>
<line x1="412.4" y1="275.88" x2="429.1" y2="264.23" stroke="#f5507a" stroke-width="0.6"/>
<line x1="412.4" y1="271.4" x2="429.1" y2="256.4" stroke="#ff3030" stroke-width="0.6"/>
<line x1="440.9" y1="303.4" x2="458.3" y2="260.3" stroke="#555555" stroke-width="0.6"/>
<line x1="440.9" y1="295.57" x2="458.3" y2="257.07" stroke="#903030" stroke-width="0.6"/>
<line x1="440.9" y1="287.73" x2="458.3" y2="253.83" stroke="#a07070" stroke-width="0.6"/>
<line x1="440.9" y1="279.9" x2="458.3" y2="250.6" stroke="#ff99cc" stroke-width="0.6"/>
<line x1="440.9" y1="272.07" x2="458.3" y2="247.37" stroke="#ff66bb" stroke-width="0.6"/>
<line x1="440.9" y1="264.23" x2="458.3" y2="244.13" stroke="#f5507a" stroke-width="0.6"/>
<line x1="440.9" y1="256.4" x2="458.3" y2="240.9" stroke="#ff3030" stroke-width="0.6"/>
<line x1="440.9" y1="303.4" x2="458.3" y2="301" stroke="#555555" stroke-width="0.6" stroke-dasharray="1.3,1.0"/>
<line x1="440.9" y1="295.57" x2="458.3" y2="291" stroke="#903030" stroke-width="0.6" stroke-dasharray="1.3,1.0"/>
<line x1="440.9" y1="287.73" x2="458.3" y2="281" stroke="#a07070" stroke-width="0.6" stroke-dasharray="1.3,1.0"/>
<line x1="440.9" y1="279.9" x2="458.3" y2="271" stroke="#ff99cc" stroke-width="0.6" stroke-dasharray="1.3,1.0"/>
<line x1="440.9" y1="272.07" x2="458.3" y2="261" stroke="#ff66bb" stroke-width="0.6" stroke-dasharray="1.3,1.0"/>
<line x1="440.9" y1="264.23" x2="458.3" y2="251" stroke="#f5507a" stroke-width="0.6" stroke-dasharray="1.3,1.0"/>
<line x1="440.9" y1="256.4" x2="458.3" y2="241" stroke="#ff3030" stroke-width="0.6" stroke-dasharray="1.3,1.0"/>
<line x1="470.3" y1="260.3" x2="487.2" y2="263.8" stroke="#555555" stroke-width="0.6"/>
<line x1="470.3" y1="257.07" x2="487.2" y2="265.52" stroke="#903030" stroke-width="0.6"/>
<line x1="470.3" y1="253.83" x2="487.2" y2="267.23" stroke="#a07070" stroke-width="0.6"/>
<line x1="470.3" y1="250.6" x2="487.2" y2="268.95" stroke="#ff99cc" stroke-width="0.6"/>
<line x1="470.3" y1="247.37" x2="487.2" y2="270.67" stroke="#ff66bb" stroke-width="0.6"/>
<line x1="470.3" y1="244.13" x2="487.2" y2="272.38" stroke="#f5507a" stroke-width="0.6"/>
<line x1="470.3" y1="240.9" x2="487.2" y2="274.1" stroke="#ff3030" stroke-width="0.6"/>
<line x1="470.3" y1="301" x2="487.2" y2="287.4" stroke="#555555" stroke-width="0.6"/>
<line x1="470.3" y1="291" x2="487.2" y2="280.73" stroke="#903030" stroke-width="0.6"/>
<line x1="470.3" y1="281" x2="487.2" y2="274.07" stroke="#a07070" stroke-width="0.6" stroke-dasharray="1.3,1.0"/>
<line x1="470.3" y1="271" x2="487.2" y2="267.4" stroke="#ff99cc" stroke-width="0.6" stroke-dasharray="1.3,1.0"/>
<line x1="470.3" y1="261" x2="487.2" y2="260.73" stroke="#ff66bb" stroke-width="0.6" stroke-dasharray="1.3,1.0"/>
<line x1="470.3" y1="251" x2="487.2" y2="254.07" stroke="#f5507a" stroke-width="0.6" stroke-dasharray="1.3,1.0"/>
<line x1="470.3" y1="241" x2="487.2" y2="247.4" stroke="#ff3030" stroke-width="0.6" stroke-dasharray="1.3,1.0"/>
<line x1="499.3" y1="287.4" x2="515.3" y2="289.1" stroke="#555555" stroke-width="0.6" stroke-dasharray="1.3,1.0"/>
<line x1="499.3" y1="280.73" x2="515.3" y2="280.13" stroke="#903030" stroke-width="0.6" stroke-dasharray="1.3,1.0"/>
<line x1="499.3" y1="274.07" x2="515.3" y2="271.17" stroke="#a07070" stroke-width="0.6" stroke-dasharray="1.3,1.0"/>
<line x1="499.3" y1="267.4" x2="515.3" y2="262.2" stroke="#ff99cc" stroke-width="0.6"/>
<line x1="499.3" y1="260.73" x2="515.3" y2="253.23" stroke="#ff66bb" stroke-width="0.6"/>
<line x1="499.3" y1="254.07" x2="515.3" y2="244.27" stroke="#f5507a" stroke-width="0.6"/>
<line x1="499.3" y1="247.4" x2="515.3" y2="235.3" stroke="#ff3030" stroke-width="0.6"/>
<line x1="527.8" y1="289.1" x2="544.7" y2="385.4" stroke="#555555" stroke-width="0.6" stroke-dasharray="1.3,1.0"/>
<line x1="527.8" y1="280.13" x2="544.7" y2="374.22" stroke="#903030" stroke-width="0.6" stroke-dasharray="1.3,1.0"/>
<line x1="527.8" y1="271.17" x2="544.7" y2="363.03" stroke="#a07070" stroke-width="0.6" stroke-dasharray="1.3,1.0"/>
<line x1="527.8" y1="262.2" x2="544.7" y2="351.85" stroke="#ff99cc" stroke-width="0.6" stroke-dasharray="1.3,1.0"/>
<line x1="527.8" y1="253.23" x2="544.7" y2="340.67" stroke="#ff66bb" stroke-width="0.6" stroke-dasharray="1.3,1.0"/>
<line x1="527.8" y1="244.27" x2="544.7" y2="329.48" stroke="#f5507a" stroke-width="0.6" stroke-dasharray="1.3,1.0"/>
<line x1="527.8" y1="235.3" x2="544.7" y2="318.3" stroke="#ff3030" stroke-width="0.6" stroke-dasharray="1.3,1.0"/>
<line x1="556.1" y1="385.4" x2="572.9" y2="353.5" stroke="#555555" stroke-width="0.6"/>
<line x1="556.1" y1="374.22" x2="572.9" y2="340.17" stroke="#903030" stroke-width="0.6"/>
<line x1="556.1" y1="363.03" x2="572.9" y2="326.83" stroke="#a07070" stroke-width="0.6"/>
<line x1="556.1" y1="351.85" x2="572.9" y2="313.5" stroke="#ff99cc" stroke-width="0.6"/>
<line x1="556.1" y1="340.67" x2="572.9" y2="300.17" stroke="#ff66bb" stroke-width="0.6"/>
<line x1="556.1" y1="329.48" x2="572.9" y2="286.83" stroke="#f5507a" stroke-width="0.6"/>
<line x1="556.1" y1="318.3" x2="572.9" y2="273.5" stroke="#ff3030" stroke-width="0.6"/>
<line x1="585.1" y1="353.5" x2="602.2" y2="298.1" stroke="#555555" stroke-width="0.6"/>
<line x1="585.1" y1="340.17" x2="602.2" y2="291" stroke="#903030" stroke-width="0.6"/>
<line x1="585.1" y1="326.83" x2="602.2" y2="283.9" stroke="#a07070" stroke-width="0.6"/>
<line x1="585.1" y1="313.5" x2="602.2" y2="276.8" stroke="#ff99cc" stroke-width="0.6"/>
<line x1="585.1" y1="300.17" x2="602.2" y2="269.7" stroke="#ff66bb" stroke-width="0.6"/>
<line x1="585.1" y1="286.83" x2="602.2" y2="262.6" stroke="#f5507a" stroke-width="0.6"/>
<line x1="585.1" y1="273.5" x2="602.2" y2="255.5" stroke="#ff3030" stroke-width="0.6"/>
<line x1="585.1" y1="353.5" x2="602" y2="392.1" stroke="#555555" stroke-width="0.6" stroke-dasharray="1.3,1.0"/>
<line x1="585.1" y1="340.17" x2="602" y2="382.57" stroke="#903030" stroke-width="0.6" stroke-dasharray="1.3,1.0"/>
<line x1="585.1" y1="326.83" x2="602" y2="373.03" stroke="#a07070" stroke-width="0.6" stroke-dasharray="1.3,1.0"/>
<line x1="585.1" y1="313.5" x2="602" y2="363.5" stroke="#ff99cc" stroke-width="0.6" stroke-dasharray="1.3,1.0"/>
<line x1="585.1" y1="300.17" x2="602" y2="353.97" stroke="#ff66bb" stroke-width="0.6" stroke-dasharray="1.3,1.0"/>
<line x1="585.1" y1="286.83" x2="602" y2="344.43" stroke="#f5507a" stroke-width="0.6" stroke-dasharray="1.3,1.0"/>
<line x1="585.1" y1="273.5" x2="602" y2="334.9" stroke="#ff3030" stroke-width="0.6" stroke-dasharray="1.3,1.0"/>
<line x1="614.2" y1="392.1" x2="631" y2="379.7" stroke="#555555" stroke-width="0.6"/>
<line x1="614.2" y1="382.57" x2="631" y2="368.67" stroke="#903030" stroke-width="0.6"/>
<line x1="614.2" y1="373.03" x2="631" y2="357.63" stroke="#a07070" stroke-width="0.6"/>
<line x1="614.2" y1="363.5" x2="631" y2="346.6" stroke="#ff99cc" stroke-width="0.6"/>
<line x1="614.2" y1="353.97" x2="631" y2="335.57" stroke="#ff66bb" stroke-width="0.6"/>
<line x1="614.2" y1="344.43" x2="631" y2="324.53" stroke="#f5507a" stroke-width="0.6"/>
<line x1="614.2" y1="334.9" x2="631" y2="313.5" stroke="#ff3030" stroke-width="0.6"/>
<line x1="642.6" y1="379.7" x2="660.1" y2="387.8" stroke="#555555" stroke-width="0.6"/>
<line x1="642.6" y1="368.67" x2="660.1" y2="380.7" stroke="#903030" stroke-width="0.6"/>
<line x1="642.6" y1="357.63" x2="660.1" y2="373.6" stroke="#a07070" stroke-width="0.6"/>
<line x1="642.6" y1="346.6" x2="660.1" y2="366.5" stroke="#ff99cc" stroke-width="0.6"/>
<line x1="642.6" y1="335.57" x2="660.1" y2="359.4" stroke="#ff66bb" stroke-width="0.6"/>
<line x1="642.6" y1="324.53" x2="660.1" y2="352.3" stroke="#f5507a" stroke-width="0.6"/>
<line x1="642.6" y1="313.5" x2="660.1" y2="345.2" stroke="#ff3030" stroke-width="0.6"/>
<line x1="371.9" y1="299.5" x2="384" y2="299.5" stroke="#707070" stroke-width="1.3"/>
<line x1="371.9" y1="299.5" x2="384" y2="299.5" stroke="#9a3535" stroke-width="1.3"/>
<line x1="371.9" y1="299.5" x2="384" y2="299.5" stroke="#bb8585" stroke-width="1.3"/>
<line x1="371.9" y1="299.5" x2="384" y2="299.5" stroke="#ff9dcf" stroke-width="1.3"/>
<line x1="371.9" y1="299.5" x2="384" y2="299.5" stroke="#ff66bb" stroke-width="1.3"/>
<line x1="371.9" y1="299.5" x2="384" y2="299.5" stroke="#f4487a" stroke-width="1.3"/>
<line x1="371.9" y1="299.5" x2="384" y2="299.5" stroke="#ff5252" stroke-width="1.3"/>
<line x1="400.3" y1="298.3" x2="412.4" y2="298.3" stroke="#707070" stroke-width="1.3"/>
<line x1="400.3" y1="293.82" x2="412.4" y2="293.82" stroke="#9a3535" stroke-width="1.3"/>
<line x1="400.3" y1="289.33" x2="412.4" y2="289.33" stroke="#bb8585" stroke-width="1.3"/>
<line x1="400.3" y1="284.85" x2="412.4" y2="284.85" stroke="#ff9dcf" stroke-width="1.3"/>
<line x1="400.3" y1="280.37" x2="412.4" y2="280.37" stroke="#ff66bb" stroke-width="1.3"/>
<line x1="400.3" y1="275.88" x2="412.4" y2="275.88" stroke="#f4487a" stroke-width="1.3"/>
<line x1="400.3" y1="271.4" x2="412.4" y2="271.4" stroke="#ff5252" stroke-width="1.3"/>
<line x1="429.1" y1="303.4" x2="440.9" y2="303.4" stroke="#707070" stroke-width="1.3"/>
<line x1="429.1" y1="295.57" x2="440.9" y2="295.57" stroke="#9a3535" stroke-width="1.3"/>
<line x1="429.1" y1="287.73" x2="440.9" y2="287.73" stroke="#bb8585" stroke-width="1.3"/>
<line x1="429.1" y1="279.9" x2="440.9" y2="279.9" stroke="#ff9dcf" stroke-width="1.3"/>
<line x1="429.1" y1="272.07" x2="440.9" y2="272.07" stroke="#ff66bb" stroke-width="1.3"/>
<line x1="429.1" y1="264.23" x2="440.9" y2="264.23" stroke="#f4487a" stroke-width="1.3"/>
<line x1="429.1" y1="256.4" x2="440.9" y2="256.4" stroke="#ff5252" stroke-width="1.3"/>
<line x1="458.3" y1="260.3" x2="470.3" y2="260.3" stroke="#707070" stroke-width="1.3"/>
<line x1="458.3" y1="257.07" x2="470.3" y2="257.07" stroke="#9a3535" stroke-width="1.3"/>
<line x1="458.3" y1="253.83" x2="470.3" y2="253.83" stroke="#bb8585" stroke-width="1.3"/>
<line x1="458.3" y1="250.6" x2="470.3" y2="250.6" stroke="#ff9dcf" stroke-width="1.3"/>
<line x1="458.3" y1="247.37" x2="470.3" y2="247.37" stroke="#ff66bb" stroke-width="1.3"/>
<line x1="458.3" y1="244.13" x2="470.3" y2="244.13" stroke="#f4487a" stroke-width="1.3"/>
<line x1="458.3" y1="240.9" x2="470.3" y2="240.9" stroke="#ff5252" stroke-width="1.3"/>
<line x1="458.3" y1="301" x2="470.3" y2="301" stroke="#707070" stroke-width="1.3"/>
<line x1="458.3" y1="291" x2="470.3" y2="291" stroke="#9a3535" stroke-width="1.3"/>
<line x1="458.3" y1="281" x2="470.3" y2="281" stroke="#bb8585" stroke-width="1.3"/>
<line x1="458.3" y1="271" x2="470.3" y2="271" stroke="#ff9dcf" stroke-width="1.3"/>
<line x1="458.3" y1="261" x2="470.3" y2="261" stroke="#ff66bb" stroke-width="1.3"/>
<line x1="458.3" y1="251" x2="470.3" y2="251" stroke="#f4487a" stroke-width="1.3"/>
<line x1="458.3" y1="241" x2="470.3" y2="241" stroke="#ff5252" stroke-width="1.3"/>
<line x1="487.2" y1="263.8" x2="499.3" y2="263.8" stroke="#707070" stroke-width="1.3"/>
<line x1="487.2" y1="265.52" x2="499.3" y2="265.52" stroke="#9a3535" stroke-width="1.3"/>
<line x1="487.2" y1="267.23" x2="499.3" y2="267.23" stroke="#bb8585" stroke-width="1.3"/>
<line x1="487.2" y1="268.95" x2="499.3" y2="268.95" stroke="#ff9dcf" stroke-width="1.3"/>
<line x1="487.2" y1="270.67" x2="499.3" y2="270.67" stroke="#ff66bb" stroke-width="1.3"/>
<line x1="487.2" y1="272.38" x2="499.3" y2="272.38" stroke="#f4487a" stroke-width="1.3"/>
<line x1="487.2" y1="274.1" x2="499.3" y2="274.1" stroke="#ff5252" stroke-width="1.3"/>
<line x1="487.2" y1="287.4" x2="499.3" y2="287.4" stroke="#707070" stroke-width="1.3"/>
<line x1="487.2" y1="280.73" x2="499.3" y2="280.73" stroke="#9a3535" stroke-width="1.3"/>
<line x1="487.2" y1="274.07" x2="499.3" y2="274.07" stroke="#bb8585" stroke-width="1.3"/>
<line x1="487.2" y1="267.4" x2="499.3" y2="267.4" stroke="#ff9dcf" stroke-width="1.3"/>
<line x1="487.2" y1="260.73" x2="499.3" y2="260.73" stroke="#ff66bb" stroke-width="1.3"/>
<line x1="487.2" y1="254.07" x2="499.3" y2="254.07" stroke="#f4487a" stroke-width="1.3"/>
<line x1="487.2" y1="247.4" x2="499.3" y2="247.4" stroke="#ff5252" stroke-width="1.3"/>
<line x1="515.3" y1="289.1" x2="527.8" y2="289.1" stroke="#707070" stroke-width="1.3"/>
<line x1="515.3" y1="280.13" x2="527.8" y2="280.13" stroke="#9a3535" stroke-width="1.3"/>
<line x1="515.3" y1="271.17" x2="527.8" y2="271.17" stroke="#bb8585" stroke-width="1.3"/>
<line x1="515.3" y1="262.2" x2="527.8" y2="262.2" stroke="#ff9dcf" stroke-width="1.3"/>
<line x1="515.3" y1="253.23" x2="527.8" y2="253.23" stroke="#ff66bb" stroke-width="1.3"/>
<line x1="515.3" y1="244.27" x2="527.8" y2="244.27" stroke="#f4487a" stroke-width="1.3"/>
<line x1="515.3" y1="235.3" x2="527.8" y2="235.3" stroke="#ff5252" stroke-width="1.3"/>
<line x1="544.7" y1="385.4" x2="556.1" y2="385.4" stroke="#707070" stroke-width="1.3"/>
<line x1="544.7" y1="374.22" x2="556.1" y2="374.22" stroke="#9a3535" stroke-width="1.3"/>
<line x1="544.7" y1="363.03" x2="556.1" y2="363.03" stroke="#bb8585" stroke-width="1.3"/>
<line x1="544.7" y1="351.85" x2="556.1" y2="351.85" stroke="#ff9dcf" stroke-width="1.3"/>
<line x1="544.7" y1="340.67" x2="556.1" y2="340.67" stroke="#ff66bb" stroke-width="1.3"/>
<line x1="544.7" y1="329.48" x2="556.1" y2="329.48" stroke="#f4487a" stroke-width="1.3"/>
<line x1="544.7" y1="318.3" x2="556.1" y2="318.3" stroke="#ff5252" stroke-width="1.3"/>
<line x1="572.9" y1="353.5" x2="585.1" y2="353.5" stroke="#707070" stroke-width="1.3"/>
<line x1="572.9" y1="340.17" x2="585.1" y2="340.17" stroke="#9a3535" stroke-width="1.3"/>
<line x1="572.9" y1="326.83" x2="585.1" y2="326.83" stroke="#bb8585" stroke-width="1.3"/>
<line x1="572.9" y1="313.5" x2="585.1" y2="313.5" stroke="#ff9dcf" stroke-width="1.3"/>
<line x1="572.9" y1="300.17" x2="585.1" y2="300.17" stroke="#ff66bb" stroke-width="1.3"/>
<line x1="572.9" y1="286.83" x2="585.1" y2="286.83" stroke="#f4487a" stroke-width="1.3"/>
<line x1="572.9" y1="273.5" x2="585.1" y2="273.5" stroke="#ff5252" stroke-width="1.3"/>
<line x1="602.2" y1="298.1" x2="613.4" y2="298.1" stroke="#707070" stroke-width="1.3"/>
<line x1="602.2" y1="291" x2="613.4" y2="291" stroke="#9a3535" stroke-width="1.3"/>
<line x1="602.2" y1="283.9" x2="613.4" y2="283.9" stroke="#bb8585" stroke-width="1.3"/>
<line x1="602.2" y1="276.8" x2="613.4" y2="276.8" stroke="#ff9dcf" stroke-width="1.3"/>
<line x1="602.2" y1="269.7" x2="613.4" y2="269.7" stroke="#ff66bb" stroke-width="1.3"/>
<line x1="602.2" y1="262.6" x2="613.4" y2="262.6" stroke="#f4487a" stroke-width="1.3"/>
<line x1="602.2" y1="255.5" x2="613.4" y2="255.5" stroke="#ff5252" stroke-width="1.3"/>
<line x1="602" y1="392.1" x2="614.2" y2="392.1" stroke="#707070" stroke-width="1.3"/>
<line x1="602" y1="382.57" x2="614.2" y2="382.57" stroke="#9a3535" stroke-width="1.3"/>
<line x1="602" y1="373.03" x2="614.2" y2="373.03" stroke="#bb8585" stroke-width="1.3"/>
<line x1="602" y1="363.5" x2="614.2" y2="363.5" stroke="#ff9dcf" stroke-width="1.3"/>
<line x1="602" y1="353.97" x2="614.2" y2="353.97" stroke="#ff66bb" stroke-width="1.3"/>
<line x1="602" y1="344.43" x2="614.2" y2="344.43" stroke="#f4487a" stroke-width="1.3"/>
<line x1="602" y1="334.9" x2="614.2" y2="334.9" stroke="#ff5252" stroke-width="1.3"/>
<line x1="631" y1="379.7" x2="642.6" y2="379.7" stroke="#707070" stroke-width="1.3"/>
<line x1="631" y1="368.67" x2="642.6" y2="368.67" stroke="#9a3535" stroke-width="1.3"/>
<line x1="631" y1="357.63" x2="642.6" y2="357.63" stroke="#bb8585" stroke-width="1.3"/>
<line x1="631" y1="346.6" x2="642.6" y2="346.6" stroke="#ff9dcf" stroke-width="1.3"/>
<line x1="631" y1="335.57" x2="642.6" y2="335.57" stroke="#ff66bb" stroke-width="1.3"/>
<line x1="631" y1="324.53" x2="642.6" y2="324.53" stroke="#f4487a" stroke-width="1.3"/>
<line x1="631" y1="313.5" x2="642.6" y2="313.5" stroke="#ff5252" stroke-width="1.3"/>
<line x1="660.1" y1="387.8" x2="671" y2="387.8" stroke="#707070" stroke-width="1.3"/>
<line x1="660.1" y1="380.7" x2="671" y2="380.7" stroke="#9a3535" stroke-width="1.3"/>
<line x1="660.1" y1="373.6" x2="671" y2="373.6" stroke="#bb8585" stroke-width="1.3"/>
<line x1="660.1" y1="366.5" x2="671" y2="366.5" stroke="#ff9dcf" stroke-width="1.3"/>
<line x1="660.1" y1="359.4" x2="671" y2="359.4" stroke="#ff66bb" stroke-width="1.3"/>
<line x1="660.1" y1="352.3" x2="671" y2="352.3" stroke="#f4487a" stroke-width="1.3"/>
<line x1="660.1" y1="345.2" x2="671" y2="345.2" stroke="#ff5252" stroke-width="1.3"/>
<rect x="360.5" y="222.7" width="322.5" height="202.8" fill="none" stroke="#666" stroke-width="1.3" rx="0.8"/>
<line x1="360.5" y1="412.22" x2="362.1" y2="412.22" stroke="#444" stroke-width="0.5"/>
<text x="358.5" y="413.8" font-size="4.8" text-anchor="end" fill="#444" >-1.6</text>
<line x1="360.5" y1="398.18" x2="361.7" y2="398.18" stroke="#444" stroke-width="0.5"/>
<line x1="360.5" y1="384.14" x2="362.1" y2="384.14" stroke="#444" stroke-width="0.5"/>
<text x="358.5" y="385.72" font-size="4.8" text-anchor="end" fill="#444" >-1.2</text>
<line x1="360.5" y1="370.1" x2="361.7" y2="370.1" stroke="#444" stroke-width="0.5"/>
<line x1="360.5" y1="356.06" x2="362.1" y2="356.06" stroke="#444" stroke-width="0.5"/>
<text x="358.5" y="357.64" font-size="4.8" text-anchor="end" fill="#444" >-0.8</text>
<line x1="360.5" y1="342.02" x2="361.7" y2="342.02" stroke="#444" stroke-width="0.5"/>
<line x1="360.5" y1="327.98" x2="362.1" y2="327.98" stroke="#444" stroke-width="0.5"/>
<text x="358.5" y="329.56" font-size="4.8" text-anchor="end" fill="#444" >-0.4</text>
<line x1="360.5" y1="313.94" x2="361.7" y2="313.94" stroke="#444" stroke-width="0.5"/>
<line x1="360.5" y1="299.9" x2="362.1" y2="299.9" stroke="#444" stroke-width="0.5"/>
<text x="358.5" y="301.48" font-size="4.8" text-anchor="end" fill="#444" >0.0</text>
<line x1="360.5" y1="285.86" x2="361.7" y2="285.86" stroke="#444" stroke-width="0.5"/>
<line x1="360.5" y1="271.82" x2="362.1" y2="271.82" stroke="#444" stroke-width="0.5"/>
<text x="358.5" y="273.4" font-size="4.8" text-anchor="end" fill="#444" >0.4</text>
<line x1="360.5" y1="257.78" x2="361.7" y2="257.78" stroke="#444" stroke-width="0.5"/>
<line x1="360.5" y1="243.74" x2="362.1" y2="243.74" stroke="#444" stroke-width="0.5"/>
<text x="358.5" y="245.32" font-size="4.8" text-anchor="end" fill="#444" >0.8</text>
<line x1="360.5" y1="229.7" x2="361.7" y2="229.7" stroke="#444" stroke-width="0.5"/>
<line x1="377.9" y1="425.2" x2="377.9" y2="426.8" stroke="#444" stroke-width="0.6"/>
<line x1="406.7" y1="425.2" x2="406.7" y2="426.8" stroke="#444" stroke-width="0.6"/>
<line x1="435.5" y1="425.2" x2="435.5" y2="426.8" stroke="#444" stroke-width="0.6"/>
<line x1="464.3" y1="425.2" x2="464.3" y2="426.8" stroke="#444" stroke-width="0.6"/>
<line x1="493.1" y1="425.2" x2="493.1" y2="426.8" stroke="#444" stroke-width="0.6"/>
<line x1="521.9" y1="425.2" x2="521.9" y2="426.8" stroke="#444" stroke-width="0.6"/>
<line x1="550.7" y1="425.2" x2="550.7" y2="426.8" stroke="#444" stroke-width="0.6"/>
<line x1="579.5" y1="425.2" x2="579.5" y2="426.8" stroke="#444" stroke-width="0.6"/>
<line x1="608.3" y1="425.2" x2="608.3" y2="426.8" stroke="#444" stroke-width="0.6"/>
<line x1="637.1" y1="425.2" x2="637.1" y2="426.8" stroke="#444" stroke-width="0.6"/>
<line x1="665.9" y1="425.2" x2="665.9" y2="426.8" stroke="#444" stroke-width="0.6"/>
<text x="6.2" y="9.13" font-size="9.5" text-anchor="middle" font-weight="bold" fill="#000" >a</text>
<text x="350.3" y="7.73" font-size="9.5" text-anchor="middle" font-weight="bold" fill="#000" >b</text>
<text x="6.1" y="228.73" font-size="9.5" text-anchor="middle" font-weight="bold" fill="#000" >c</text>
<text x="350.1" y="227.73" font-size="9.5" text-anchor="middle" font-weight="bold" fill="#000" >d</text>
<text x="332.8" y="12.71" font-size="7.6" text-anchor="end" font-weight="bold" fill="#000" >aTiO<tspan font-size="5.47" dy="1.67">2</tspan><tspan dy="-1.67"> </tspan>with V<tspan font-size="5.47" dy="1.67">O</tspan></text>
<text x="675.8" y="12.61" font-size="7.6" text-anchor="end" font-weight="bold" fill="#000" >Al<tspan font-size="5.47" dy="1.67">2</tspan><tspan dy="-1.67">O</tspan><tspan font-size="5.47" dy="1.67">3</tspan><tspan dy="-1.67"> </tspan>doped aTiO<tspan font-size="5.47" dy="1.67">2</tspan><tspan dy="-1.67"> </tspan>with V<tspan font-size="5.47" dy="1.67">O</tspan></text>
<text x="333" y="232.51" font-size="7.6" text-anchor="end" font-weight="bold" fill="#000" >La<tspan font-size="5.47" dy="1.67">2</tspan><tspan dy="-1.67">O</tspan><tspan font-size="5.47" dy="1.67">3</tspan><tspan dy="-1.67"> </tspan>doped aTiO<tspan font-size="5.47" dy="1.67">2</tspan><tspan dy="-1.67"> </tspan>with V<tspan font-size="5.47" dy="1.67">O</tspan></text>
<text x="677.6" y="233.11" font-size="7.6" text-anchor="end" font-weight="bold" fill="#000" >Ga<tspan font-size="5.47" dy="1.67">2</tspan><tspan dy="-1.67">O</tspan><tspan font-size="5.47" dy="1.67">3</tspan><tspan dy="-1.67"> </tspan>doped aTiO<tspan font-size="5.47" dy="1.67">2</tspan><tspan dy="-1.67"> </tspan>with V<tspan font-size="5.47" dy="1.67">O</tspan></text>
<rect x="308.3" y="20.9" width="6.8" height="5.28" fill="#ff0000"/>
<rect x="308.3" y="26.13" width="6.8" height="5.28" fill="#ff1a55"/>
<rect x="308.3" y="31.36" width="6.8" height="5.28" fill="#ff3399"/>
<rect x="308.3" y="36.59" width="6.8" height="5.28" fill="#ff85c2"/>
<rect x="308.3" y="41.81" width="6.8" height="5.28" fill="#8b5050"/>
<rect x="308.3" y="47.04" width="6.8" height="5.28" fill="#7a0000"/>
<rect x="308.3" y="52.27" width="6.8" height="5.28" fill="#000000"/>
<text x="316.9" y="25.55" font-size="5.6" text-anchor="start" font-weight="bold" fill="#ff0000" >400°C</text>
<text x="316.9" y="56.75" font-size="5.6" text-anchor="start" font-weight="bold" fill="#000" >100°C</text>
<rect x="651.9" y="20.9" width="6.8" height="5.28" fill="#ff0000"/>
<rect x="651.9" y="26.13" width="6.8" height="5.28" fill="#ff1a55"/>
<rect x="651.9" y="31.36" width="6.8" height="5.28" fill="#ff3399"/>
<rect x="651.9" y="36.59" width="6.8" height="5.28" fill="#ff85c2"/>
<rect x="651.9" y="41.81" width="6.8" height="5.28" fill="#8b5050"/>
<rect x="651.9" y="47.04" width="6.8" height="5.28" fill="#7a0000"/>
<rect x="651.9" y="52.27" width="6.8" height="5.28" fill="#000000"/>
<text x="660.5" y="25.55" font-size="5.6" text-anchor="start" font-weight="bold" fill="#ff0000" >400°C</text>
<text x="660.5" y="56.75" font-size="5.6" text-anchor="start" font-weight="bold" fill="#000" >100°C</text>
<rect x="308.3" y="241.1" width="6.8" height="5.24" fill="#ff0000"/>
<rect x="308.3" y="246.29" width="6.8" height="5.24" fill="#ff1a55"/>
<rect x="308.3" y="251.47" width="6.8" height="5.24" fill="#ff3399"/>
<rect x="308.3" y="256.66" width="6.8" height="5.24" fill="#ff85c2"/>
<rect x="308.3" y="261.84" width="6.8" height="5.24" fill="#8b5050"/>
<rect x="308.3" y="267.03" width="6.8" height="5.24" fill="#7a0000"/>
<rect x="308.3" y="272.21" width="6.8" height="5.24" fill="#000000"/>
<text x="316.9" y="245.75" font-size="5.6" text-anchor="start" font-weight="bold" fill="#ff0000" >400°C</text>
<text x="316.9" y="276.65" font-size="5.6" text-anchor="start" font-weight="bold" fill="#000" >100°C</text>
<rect x="652.1" y="241.1" width="6.8" height="5.24" fill="#ff0000"/>
<rect x="652.1" y="246.29" width="6.8" height="5.24" fill="#ff1a55"/>
<rect x="652.1" y="251.47" width="6.8" height="5.24" fill="#ff3399"/>
<rect x="652.1" y="256.66" width="6.8" height="5.24" fill="#ff85c2"/>
<rect x="652.1" y="261.84" width="6.8" height="5.24" fill="#8b5050"/>
<rect x="652.1" y="267.03" width="6.8" height="5.24" fill="#7a0000"/>
<rect x="652.1" y="272.21" width="6.8" height="5.24" fill="#000000"/>
<text x="660.7" y="245.75" font-size="5.6" text-anchor="start" font-weight="bold" fill="#ff0000" >400°C</text>
<text x="660.7" y="276.65" font-size="5.6" text-anchor="start" font-weight="bold" fill="#000" >100°C</text>
<text x="3.8" y="102.21" font-size="7" text-anchor="middle" font-weight="bold" fill="#000" transform="rotate(-90 3.8 99.9)">Gibbs free energy / eV</text>
<text x="347.6" y="103.81" font-size="7" text-anchor="middle" font-weight="bold" fill="#000" transform="rotate(-90 347.6 101.5)">Gibbs free energy / eV</text>
<text x="3.7" y="319.51" font-size="7" text-anchor="middle" font-weight="bold" fill="#000" transform="rotate(-90 3.7 317.2)">Gibbs free energy / eV</text>
<text x="347.6" y="322.91" font-size="7" text-anchor="middle" font-weight="bold" fill="#000" transform="rotate(-90 347.6 320.6)">Gibbs free energy / eV</text>
<text x="178.8" y="214.49" font-size="7.85" text-anchor="middle" fill="#2a2a2a" >Reaction Coordinate</text>
<text x="522.3" y="214.79" font-size="7.85" text-anchor="middle" fill="#2a2a2a" >Reaction Coordinate</text>
<text x="178.5" y="433.99" font-size="7.85" text-anchor="middle" fill="#2a2a2a" >Reaction Coordinate</text>
<text x="522.5" y="433.99" font-size="7.85" text-anchor="middle" fill="#2a2a2a" >Reaction Coordinate</text>
<line x1="32.4" y1="95.5" x2="40.5" y2="99.9" stroke="#888" stroke-width="1.2"/>
<circle cx="32.4" cy="95.5" r="1.75" fill="#f00000"/>
<circle cx="40.5" cy="99.9" r="1.75" fill="#f00000"/>
<circle cx="36.4" cy="97.7" r="1.9" fill="#777" stroke="#333" stroke-width="0.5"/>
<text x="36.3" y="107.11" font-size="5.8" text-anchor="middle" fill="#111" >CO<tspan font-size="3.6" dy="1.28">2</tspan></text>
<text x="63.5" y="120.51" font-size="5.8" text-anchor="middle" font-weight="bold" fill="#111" ><tspan font-size="4.52">*</tspan>CO<tspan font-size="3.6" dy="1.28">2</tspan></text>
<text x="92.2" y="105.51" font-size="5.8" text-anchor="middle" font-weight="bold" fill="#111" ><tspan font-size="4.52">*</tspan>COOH</text>
<text x="119.5" y="96.71" font-size="5.8" text-anchor="middle" font-weight="bold" fill="#111" ><tspan font-size="4.52">*</tspan>CO</text>
<line x1="145.15" y1="67.8" x2="150.15" y2="67.8" stroke="#c33" stroke-width="1.3"/>
<circle cx="145.15" cy="67.8" r="1.95" fill="#f00000"/>
<circle cx="150.15" cy="67.8" r="1.85" fill="#808080" stroke="#333" stroke-width="0.5"/>
<text x="148.1" y="83.51" font-size="5.8" text-anchor="middle" font-weight="bold" fill="#111" >CO</text>
<text x="148.3" y="104.91" font-size="5.8" text-anchor="middle" fill="#111" ><tspan font-size="4.52">*</tspan>CHO</text>
<text x="175.5" y="53.71" font-size="5.8" text-anchor="middle" font-weight="bold" fill="#111" ><tspan font-size="4.52">*</tspan>HCOH</text>
<text x="201" y="43.21" font-size="5.8" text-anchor="middle" fill="#111" ><tspan font-size="4.52">*</tspan>CH<tspan font-size="3.6" dy="1.28">2</tspan><tspan dy="-1.28">O</tspan>H</text>
<text x="232" y="90.11" font-size="5.8" text-anchor="middle" fill="#111" ><tspan font-size="4.52">*</tspan>CH<tspan font-size="3.6" dy="1.28">3</tspan></text>
<text x="232" y="147.91" font-size="5.8" text-anchor="middle" font-weight="bold" fill="#111" ><tspan font-size="4.52">*</tspan>CH<tspan font-size="3.6" dy="1.28">2</tspan><tspan dy="-1.28">O</tspan>H</text>
<g stroke="#777" stroke-width="1.1" stroke-linecap="round">
<line x1="258.8" y1="59.7" x2="255.6" y2="57.1"/>
<line x1="258.8" y1="59.7" x2="255.5" y2="60.7"/>
<line x1="258.8" y1="59.7" x2="260.3" y2="63.9"/>
<line x1="263.3" y1="55.7" x2="266.2" y2="57.7" stroke="#c44"/>
<line x1="258.8" y1="59.7" x2="263.3" y2="55.7" stroke-width="1.5"/>
</g>
<ellipse cx="258.8" cy="59.7" rx="1.9" ry="2.3" fill="#666" stroke="#333" stroke-width="0.4"/>
<circle cx="263.3" cy="55.7" r="1.7" fill="#f00000"/>
<circle cx="255.6" cy="57.1" r="1.0" fill="#eee" stroke="#999" stroke-width="0.35"/>
<circle cx="255.5" cy="60.7" r="1.0" fill="#eee" stroke="#999" stroke-width="0.35"/>
<circle cx="260.3" cy="63.9" r="1.0" fill="#eee" stroke="#999" stroke-width="0.35"/>
<circle cx="266.2" cy="57.7" r="1.0" fill="#eee" stroke="#999" stroke-width="0.35"/>
<text x="260.2" y="71.21" font-size="5.8" text-anchor="middle" font-weight="bold" fill="#111" >CH<tspan font-size="3.6" dy="1.28">3</tspan><tspan dy="-1.28">O</tspan>H</text>
<text x="259.5" y="155.91" font-size="5.8" text-anchor="middle" fill="#111" ><tspan font-size="4.52">*</tspan>CH<tspan font-size="3.6" dy="1.28">3</tspan></text>
<text x="288.5" y="155.11" font-size="5.8" text-anchor="middle" fill="#111" ><tspan font-size="4.52">*</tspan>CH<tspan font-size="3.6" dy="1.28">4</tspan></text>
<g stroke="#555" stroke-width="0.6">
<line x1="316.4" y1="134.1" x2="315.1" y2="129.1"/>
<line x1="316.4" y1="134.1" x2="311.8" y2="136.4"/>
<line x1="316.4" y1="134.1" x2="318.9" y2="136.9"/>
<line x1="316.4" y1="134.1" x2="320.4" y2="133.4"/>
</g>
<circle cx="316.4" cy="134.1" r="2" fill="#555"/>
<circle cx="315.1" cy="129.1" r="0.9" fill="#ccc" stroke="#777" stroke-width="0.3"/>
<circle cx="311.8" cy="136.4" r="0.9" fill="#ccc" stroke="#777" stroke-width="0.3"/>
<circle cx="318.9" cy="136.9" r="0.9" fill="#ccc" stroke="#777" stroke-width="0.3"/>
<circle cx="320.4" cy="133.4" r="0.9" fill="#ccc" stroke="#777" stroke-width="0.3"/>
<text x="316.4" y="143.91" font-size="5.8" text-anchor="middle" fill="#111" >CH<tspan font-size="3.6" dy="1.28">4</tspan></text>
<line x1="372.8" y1="73.8" x2="380.9" y2="78.2" stroke="#888" stroke-width="1.2"/>
<circle cx="372.8" cy="73.8" r="1.75" fill="#f00000"/>
<circle cx="380.9" cy="78.2" r="1.75" fill="#f00000"/>
<circle cx="376.8" cy="76" r="1.9" fill="#777" stroke="#333" stroke-width="0.5"/>
<text x="377.3" y="85.51" font-size="5.8" text-anchor="middle" font-weight="bold" fill="#111" >CO<tspan font-size="3.6" dy="1.28">2</tspan></text>
<text x="405.5" y="73.51" font-size="5.8" text-anchor="middle" font-weight="bold" fill="#111" ><tspan font-size="4.52">*</tspan>CO<tspan font-size="3.6" dy="1.28">2</tspan></text>
<text x="433.5" y="55.51" font-size="5.8" text-anchor="middle" font-weight="bold" fill="#111" ><tspan font-size="4.52">*</tspan>COOH</text>
<text x="463" y="50.21" font-size="5.8" text-anchor="middle" font-weight="bold" fill="#111" ><tspan font-size="4.52">*</tspan>CO</text>
<text x="492.2" y="41.31" font-size="5.8" text-anchor="middle" fill="#111" ><tspan font-size="4.52">*</tspan>CHO</text>
<text x="491.6" y="72.71" font-size="5.8" text-anchor="middle" fill="#111" >CO</text>
<line x1="489.45" y1="76.7" x2="494.45" y2="76.7" stroke="#c33" stroke-width="1.3"/>
<circle cx="489.45" cy="76.7" r="1.95" fill="#f00000"/>
<circle cx="494.45" cy="76.7" r="1.85" fill="#808080" stroke="#333" stroke-width="0.5"/>
<text x="520.5" y="63.71" font-size="5.8" text-anchor="middle" fill="#111" ><tspan font-size="4.52">*</tspan>HCHO</text>
<text x="548.5" y="147.11" font-size="5.8" text-anchor="middle" font-weight="bold" fill="#111" ><tspan font-size="4.52">*</tspan>CH<tspan font-size="3.6" dy="1.28">2</tspan><tspan dy="-1.28">O</tspan></text>
<text x="578" y="114.81" font-size="5.8" text-anchor="middle" font-weight="bold" fill="#111" ><tspan font-size="4.52">*</tspan>CH<tspan font-size="3.6" dy="1.28">2</tspan><tspan dy="-1.28">O</tspan>H</text>
<g stroke="#777" stroke-width="1.1" stroke-linecap="round">
<line x1="603.3" y1="36.2" x2="600.1" y2="33.6"/>
<line x1="603.3" y1="36.2" x2="600" y2="37.2"/>
<line x1="603.3" y1="36.2" x2="604.8" y2="40.4"/>
<line x1="607.8" y1="32.2" x2="610.7" y2="34.2" stroke="#c44"/>
<line x1="603.3" y1="36.2" x2="607.8" y2="32.2" stroke-width="1.5"/>
</g>
<ellipse cx="603.3" cy="36.2" rx="1.9" ry="2.3" fill="#666" stroke="#333" stroke-width="0.4"/>
<circle cx="607.8" cy="32.2" r="1.7" fill="#f00000"/>
<circle cx="600.1" cy="33.6" r="1.0" fill="#eee" stroke="#999" stroke-width="0.35"/>
<circle cx="600" cy="37.2" r="1.0" fill="#eee" stroke="#999" stroke-width="0.35"/>
<circle cx="604.8" cy="40.4" r="1.0" fill="#eee" stroke="#999" stroke-width="0.35"/>
<circle cx="610.7" cy="34.2" r="1.0" fill="#eee" stroke="#999" stroke-width="0.35"/>
<text x="605.4" y="47.51" font-size="5.8" text-anchor="middle" font-weight="bold" fill="#111" >CH<tspan font-size="3.6" dy="1.28">3</tspan><tspan dy="-1.28">O</tspan>H</text>
<text x="606" y="106.91" font-size="5.8" text-anchor="middle" fill="#111" ><tspan font-size="4.52">*</tspan>CH<tspan font-size="3.6" dy="1.28">3</tspan></text>
<text x="635.6" y="135.41" font-size="5.8" text-anchor="middle" fill="#111" ><tspan font-size="4.52">*</tspan>CH<tspan font-size="3.6" dy="1.28">4</tspan></text>
<g stroke="#555" stroke-width="0.6">
<line x1="661.8" y1="117.1" x2="660.5" y2="112.1"/>
<line x1="661.8" y1="117.1" x2="657.2" y2="119.4"/>
<line x1="661.8" y1="117.1" x2="664.3" y2="119.9"/>
<line x1="661.8" y1="117.1" x2="665.8" y2="116.4"/>
</g>
<circle cx="661.8" cy="117.1" r="2" fill="#555"/>
<circle cx="660.5" cy="112.1" r="0.9" fill="#ccc" stroke="#777" stroke-width="0.3"/>
<circle cx="657.2" cy="119.4" r="0.9" fill="#ccc" stroke="#777" stroke-width="0.3"/>
<circle cx="664.3" cy="119.9" r="0.9" fill="#ccc" stroke="#777" stroke-width="0.3"/>
<circle cx="665.8" cy="116.4" r="0.9" fill="#ccc" stroke="#777" stroke-width="0.3"/>
<text x="662.1" y="126.21" font-size="5.8" text-anchor="middle" fill="#111" >CH<tspan font-size="3.6" dy="1.28">4</tspan></text>
<line x1="32.5" y1="312.8" x2="40.6" y2="317.2" stroke="#888" stroke-width="1.2"/>
<circle cx="32.5" cy="312.8" r="1.75" fill="#f00000"/>
<circle cx="40.6" cy="317.2" r="1.75" fill="#f00000"/>
<circle cx="36.5" cy="315" r="1.9" fill="#777" stroke="#333" stroke-width="0.5"/>
<text x="36.3" y="324.71" font-size="5.8" text-anchor="middle" fill="#111" >CO<tspan font-size="3.6" dy="1.28">2</tspan></text>
<text x="63.8" y="322.71" font-size="5.8" text-anchor="middle" font-weight="bold" fill="#111" ><tspan font-size="4.52">*</tspan>CO<tspan font-size="3.6" dy="1.28">2</tspan></text>
<text x="93" y="255.81" font-size="5.8" text-anchor="middle" font-weight="bold" fill="#111" ><tspan font-size="4.52">*</tspan>COOH</text>
<text x="93" y="353.51" font-size="5.8" text-anchor="middle" font-weight="bold" fill="#111" ><tspan font-size="4.52">*</tspan>HCOO</text>
<text x="121" y="286.21" font-size="5.8" text-anchor="middle" fill="#111" ><tspan font-size="4.52">*</tspan>CO</text>
<text x="119.3" y="317.11" font-size="5.8" text-anchor="middle" font-weight="bold" fill="#111" ><tspan font-size="4.52">*</tspan>HCOOH</text>
<line x1="146.7" y1="286.6" x2="151.7" y2="286.6" stroke="#c33" stroke-width="1.3"/>
<circle cx="146.7" cy="286.6" r="1.95" fill="#f00000"/>
<circle cx="151.7" cy="286.6" r="1.85" fill="#808080" stroke="#333" stroke-width="0.5"/>
<text x="149" y="294.41" font-size="5.8" text-anchor="middle" fill="#111" >CO</text>
<text x="152.5" y="340.71" font-size="5.8" text-anchor="middle" font-weight="bold" fill="#111" ><tspan font-size="4.52">*</tspan>H<tspan font-size="3.6" dy="1.28">2</tspan><tspan dy="-1.28">C</tspan>OOH</text>
<text x="177.6" y="296.91" font-size="5.8" text-anchor="middle" font-weight="bold" fill="#111" ><tspan font-size="4.52">*</tspan>HCHO</text>
<text x="206.2" y="362.21" font-size="5.8" text-anchor="middle" fill="#111" ><tspan font-size="4.52">*</tspan>CH<tspan font-size="3.6" dy="1.28">2</tspan><tspan dy="-1.28">O</tspan></text>
<text x="235" y="331.91" font-size="5.8" text-anchor="middle" fill="#111" ><tspan font-size="4.52">*</tspan>CH<tspan font-size="3.6" dy="1.28">2</tspan><tspan dy="-1.28">O</tspan>H</text>
<g stroke="#777" stroke-width="1.1" stroke-linecap="round">
<line x1="260.2" y1="258.4" x2="257" y2="255.8"/>
<line x1="260.2" y1="258.4" x2="256.9" y2="259.4"/>
<line x1="260.2" y1="258.4" x2="261.7" y2="262.6"/>
<line x1="264.7" y1="254.4" x2="267.6" y2="256.4" stroke="#c44"/>
<line x1="260.2" y1="258.4" x2="264.7" y2="254.4" stroke-width="1.5"/>
</g>
<ellipse cx="260.2" cy="258.4" rx="1.9" ry="2.3" fill="#666" stroke="#333" stroke-width="0.4"/>
<circle cx="264.7" cy="254.4" r="1.7" fill="#f00000"/>
<circle cx="257" cy="255.8" r="1.0" fill="#eee" stroke="#999" stroke-width="0.35"/>
<circle cx="256.9" cy="259.4" r="1.0" fill="#eee" stroke="#999" stroke-width="0.35"/>
<circle cx="261.7" cy="262.6" r="1.0" fill="#eee" stroke="#999" stroke-width="0.35"/>
<circle cx="267.6" cy="256.4" r="1.0" fill="#eee" stroke="#999" stroke-width="0.35"/>
<text x="263.3" y="270.21" font-size="5.8" text-anchor="middle" fill="#111" >CH<tspan font-size="3.6" dy="1.28">3</tspan><tspan dy="-1.28">O</tspan>H</text>
<text x="262.5" y="312.91" font-size="5.8" text-anchor="middle" font-weight="bold" fill="#111" ><tspan font-size="4.52">*</tspan>CH<tspan font-size="3.6" dy="1.28">3</tspan></text>
<text x="290.5" y="370.71" font-size="5.8" text-anchor="middle" fill="#111" ><tspan font-size="4.52">*</tspan>CH<tspan font-size="3.6" dy="1.28">4</tspan></text>
<g stroke="#555" stroke-width="0.6">
<line x1="319" y1="352.2" x2="317.7" y2="347.2"/>
<line x1="319" y1="352.2" x2="314.4" y2="354.5"/>
<line x1="319" y1="352.2" x2="321.5" y2="355"/>
<line x1="319" y1="352.2" x2="323" y2="351.5"/>
</g>
<circle cx="319" cy="352.2" r="2" fill="#555"/>
<circle cx="317.7" cy="347.2" r="0.9" fill="#ccc" stroke="#777" stroke-width="0.3"/>
<circle cx="314.4" cy="354.5" r="0.9" fill="#ccc" stroke="#777" stroke-width="0.3"/>
<circle cx="321.5" cy="355" r="0.9" fill="#ccc" stroke="#777" stroke-width="0.3"/>
<circle cx="323" cy="351.5" r="0.9" fill="#ccc" stroke="#777" stroke-width="0.3"/>
<text x="319" y="362.01" font-size="5.8" text-anchor="middle" fill="#111" >CH<tspan font-size="3.6" dy="1.28">4</tspan></text>
<line x1="374.1" y1="286" x2="382.2" y2="290.4" stroke="#888" stroke-width="1.2"/>
<circle cx="374.1" cy="286" r="1.75" fill="#f00000"/>
<circle cx="382.2" cy="290.4" r="1.75" fill="#f00000"/>
<circle cx="378.1" cy="288.2" r="1.9" fill="#777" stroke="#333" stroke-width="0.5"/>
<text x="378" y="297.91" font-size="5.8" text-anchor="middle" font-weight="bold" fill="#111" >CO<tspan font-size="3.6" dy="1.28">2</tspan></text>
<text x="405.5" y="289.91" font-size="5.8" text-anchor="middle" font-weight="bold" fill="#111" ><tspan font-size="4.52">*</tspan>CO<tspan font-size="3.6" dy="1.28">2</tspan></text>
<text x="435.8" y="285.91" font-size="5.8" text-anchor="middle" font-weight="bold" fill="#111" ><tspan font-size="4.52">*</tspan>COOH</text>
<text x="463.8" y="252.81" font-size="5.8" text-anchor="middle" font-weight="bold" fill="#111" ><tspan font-size="4.52">*</tspan>CO</text>
<text x="463" y="279.51" font-size="5.8" text-anchor="middle" fill="#111" ><tspan font-size="4.52">*</tspan>HCOOH</text>
<line x1="489.6" y1="237" x2="494.6" y2="237" stroke="#c33" stroke-width="1.3"/>
<circle cx="489.6" cy="237" r="1.95" fill="#f00000"/>
<circle cx="494.6" cy="237" r="1.85" fill="#808080" stroke="#333" stroke-width="0.5"/>
<text x="492.1" y="244.91" font-size="5.8" text-anchor="middle" fill="#111" >CO</text>
<text x="492.5" y="295.31" font-size="5.8" text-anchor="middle" fill="#111" ><tspan font-size="4.52">*</tspan>CHO</text>
<text x="520" y="269.11" font-size="5.8" text-anchor="middle" fill="#111" ><tspan font-size="4.52">*</tspan>HCHO</text>
<text x="551" y="359.91" font-size="5.8" text-anchor="middle" font-weight="bold" fill="#111" ><tspan font-size="4.52">*</tspan>CH<tspan font-size="3.6" dy="1.28">2</tspan><tspan dy="-1.28">O</tspan></text>
<text x="578" y="325.51" font-size="5.8" text-anchor="middle" font-weight="bold" fill="#111" ><tspan font-size="4.52">*</tspan>CH<tspan font-size="3.6" dy="1.28">2</tspan><tspan dy="-1.28">O</tspan>H</text>
<g stroke="#777" stroke-width="1.1" stroke-linecap="round">
<line x1="605.4" y1="241.5" x2="602.2" y2="238.9"/>
<line x1="605.4" y1="241.5" x2="602.1" y2="242.5"/>
<line x1="605.4" y1="241.5" x2="606.9" y2="245.7"/>
<line x1="609.9" y1="237.5" x2="612.8" y2="239.5" stroke="#c44"/>
<line x1="605.4" y1="241.5" x2="609.9" y2="237.5" stroke-width="1.5"/>
</g>
<ellipse cx="605.4" cy="241.5" rx="1.9" ry="2.3" fill="#666" stroke="#333" stroke-width="0.4"/>
<circle cx="609.9" cy="237.5" r="1.7" fill="#f00000"/>
<circle cx="602.2" cy="238.9" r="1.0" fill="#eee" stroke="#999" stroke-width="0.35"/>
<circle cx="602.1" cy="242.5" r="1.0" fill="#eee" stroke="#999" stroke-width="0.35"/>
<circle cx="606.9" cy="245.7" r="1.0" fill="#eee" stroke="#999" stroke-width="0.35"/>
<circle cx="612.8" cy="239.5" r="1.0" fill="#eee" stroke="#999" stroke-width="0.35"/>
<text x="607.9" y="253.91" font-size="5.8" text-anchor="middle" font-weight="bold" fill="#111" >CH<tspan font-size="3.6" dy="1.28">3</tspan><tspan dy="-1.28">O</tspan>H</text>
<text x="607.8" y="372.21" font-size="5.8" text-anchor="middle" fill="#111" ><tspan font-size="4.52">*</tspan>CH<tspan font-size="3.6" dy="1.28">3</tspan></text>
<text x="637" y="355.41" font-size="5.8" text-anchor="middle" fill="#111" ><tspan font-size="4.52">*</tspan>CH<tspan font-size="3.6" dy="1.28">4</tspan></text>
<g stroke="#555" stroke-width="0.6">
<line x1="665.1" y1="333.2" x2="663.8" y2="328.2"/>
<line x1="665.1" y1="333.2" x2="660.5" y2="335.5"/>
<line x1="665.1" y1="333.2" x2="667.6" y2="336"/>
<line x1="665.1" y1="333.2" x2="669.1" y2="332.5"/>
</g>
<circle cx="665.1" cy="333.2" r="2" fill="#555"/>
<circle cx="663.8" cy="328.2" r="0.9" fill="#ccc" stroke="#777" stroke-width="0.3"/>
<circle cx="660.5" cy="335.5" r="0.9" fill="#ccc" stroke="#777" stroke-width="0.3"/>
<circle cx="667.6" cy="336" r="0.9" fill="#ccc" stroke="#777" stroke-width="0.3"/>
<circle cx="669.1" cy="332.5" r="0.9" fill="#ccc" stroke="#777" stroke-width="0.3"/>
<text x="665.3" y="342.61" font-size="5.8" text-anchor="middle" fill="#111" >CH<tspan font-size="3.6" dy="1.28">4</tspan></text>
<text x="36.1" y="202.41" font-size="6.1" text-anchor="middle" fill="#111" >CO<tspan font-size="3.78" dy="1.34">2</tspan></text>
<line x1="43.2" y1="200.4" x2="55.2" y2="200.4" stroke="#333" stroke-width="0.5"/>
<polygon points="56.4,200.4 54.5,199.65 54.5,201.15" fill="#333"/>
<text x="62.75" y="202.41" font-size="6.1" text-anchor="middle" font-weight="bold" fill="#111" ><tspan font-size="4.76">*</tspan>CO<tspan font-size="3.78" dy="1.34">2</tspan></text>
<line x1="70.3" y1="200.4" x2="80" y2="200.4" stroke="#e02020" stroke-width="0.5"/>
<polygon points="81.2,200.4 79.3,199.65 79.3,201.15" fill="#e02020"/>
<text x="91.55" y="202.41" font-size="6.1" text-anchor="middle" fill="#111" ><tspan font-size="4.76">*</tspan>COOH</text>
<line x1="102.4" y1="200.4" x2="114.3" y2="200.4" stroke="#333" stroke-width="0.5"/>
<polygon points="115.5,200.4 113.6,199.65 113.6,201.15" fill="#333"/>
<text x="121.35" y="202.41" font-size="6.1" text-anchor="middle" font-weight="bold" fill="#111" ><tspan font-size="4.76">*</tspan>CO</text>
<line x1="127.5" y1="199.2" x2="138.3" y2="196" stroke="#e02020" stroke-width="0.5"/>
<polygon points="139.5,196 137.47,195.76 137.86,197.21" fill="#e02020"/>
<line x1="127.5" y1="201.2" x2="138.3" y2="204" stroke="#333" stroke-width="0.5"/>
<polygon points="139.5,204 137.82,202.84 137.48,204.3" fill="#333"/>
<text x="148.55" y="197.51" font-size="6.1" text-anchor="middle" font-weight="bold" fill="#111" >CO</text>
<text x="148.35" y="204.21" font-size="6.1" text-anchor="middle" fill="#111" ><tspan font-size="4.76">*</tspan>CHO</text>
<line x1="154.7" y1="199.9" x2="162.2" y2="199.9" stroke="#e02020" stroke-width="0.5"/>
<polygon points="163.4,199.9 161.5,199.15 161.5,200.65" fill="#e02020"/>
<text x="173.95" y="202.41" font-size="6.1" text-anchor="middle" font-weight="bold" fill="#111" ><tspan font-size="4.76">*</tspan>HCOH</text>
<line x1="185" y1="200.4" x2="192.8" y2="200.4" stroke="#333" stroke-width="0.5"/>
<polygon points="194,200.4 192.1,199.65 192.1,201.15" fill="#333"/>
<text x="203.85" y="202.41" font-size="6.1" text-anchor="middle" fill="#111" ><tspan font-size="4.76">*</tspan>CH<tspan font-size="3.78" dy="1.34">2</tspan><tspan dy="-1.34">O</tspan>H</text>
<line x1="213.8" y1="199.5" x2="220.3" y2="196" stroke="#333" stroke-width="0.5"/>
<polygon points="221.5,196 219.46,196.1 220.08,197.47" fill="#333"/>
<line x1="213.8" y1="201" x2="220.3" y2="203" stroke="#333" stroke-width="0.5"/>
<polygon points="221.5,203 219.85,201.8 219.47,203.25" fill="#333"/>
<text x="232" y="197.61" font-size="6.1" text-anchor="middle" font-weight="bold" fill="#111" ><tspan font-size="4.76">*</tspan>CH<tspan font-size="3.78" dy="1.34">3</tspan><tspan dy="-1.34">O</tspan>H</text>
<line x1="243" y1="195.6" x2="250.8" y2="195.6" stroke="#e02020" stroke-width="0.5"/>
<polygon points="252,195.6 250.1,194.85 250.1,196.35" fill="#e02020"/>
<text x="262.2" y="197.61" font-size="6.1" text-anchor="middle" font-weight="bold" fill="#111" >CH<tspan font-size="3.78" dy="1.34">3</tspan><tspan dy="-1.34">O</tspan>H</text>
<text x="231.7" y="203.81" font-size="6.1" text-anchor="middle" fill="#111" ><tspan font-size="4.76">*</tspan>CH<tspan font-size="3.78" dy="1.34">3</tspan></text>
<line x1="242.5" y1="201.5" x2="251.6" y2="201.5" stroke="#333" stroke-width="0.5"/>
<polygon points="252.8,201.5 250.9,200.75 250.9,202.25" fill="#333"/>
<text x="261.35" y="203.81" font-size="6.1" text-anchor="middle" fill="#111" ><tspan font-size="4.76">*</tspan>CH<tspan font-size="3.78" dy="1.34">3</tspan></text>
<line x1="270.6" y1="201.5" x2="280.6" y2="201.5" stroke="#333" stroke-width="0.5"/>
<polygon points="281.8,201.5 279.9,200.75 279.9,202.25" fill="#333"/>
<text x="287.9" y="203.31" font-size="6.1" text-anchor="middle" fill="#111" ><tspan font-size="4.76">*</tspan>CH<tspan font-size="3.78" dy="1.34">4</tspan></text>
<line x1="296" y1="201.3" x2="308.2" y2="201.3" stroke="#333" stroke-width="0.5"/>
<polygon points="309.4,201.3 307.5,200.55 307.5,202.05" fill="#333"/>
<text x="316.1" y="203.31" font-size="6.1" text-anchor="middle" fill="#111" >CH<tspan font-size="3.78" dy="1.34">4</tspan></text>
<text x="378.6" y="202.31" font-size="6.1" text-anchor="middle" font-weight="bold" fill="#111" >CO<tspan font-size="3.78" dy="1.34">2</tspan></text>
<line x1="386" y1="200.3" x2="396" y2="200.3" stroke="#e02020" stroke-width="0.5"/>
<polygon points="397.2,200.3 395.3,199.55 395.3,201.05" fill="#e02020"/>
<text x="404.25" y="202.31" font-size="6.1" text-anchor="middle" font-weight="bold" fill="#111" ><tspan font-size="4.76">*</tspan>CO<tspan font-size="3.78" dy="1.34">2</tspan></text>
<line x1="411.6" y1="200.3" x2="421.3" y2="200.3" stroke="#e02020" stroke-width="0.5"/>
<polygon points="422.5,200.3 420.6,199.55 420.6,201.05" fill="#e02020"/>
<text x="432.15" y="202.31" font-size="6.1" text-anchor="middle" font-weight="bold" fill="#111" ><tspan font-size="4.76">*</tspan>COOH</text>
<line x1="443" y1="200.3" x2="453.1" y2="200.3" stroke="#e02020" stroke-width="0.5"/>
<polygon points="454.3,200.3 452.4,199.55 452.4,201.05" fill="#e02020"/>
<text x="461" y="202.31" font-size="6.1" text-anchor="middle" font-weight="bold" fill="#111" ><tspan font-size="4.76">*</tspan>CO</text>
<line x1="469.6" y1="200" x2="480.3" y2="197" stroke="#333" stroke-width="0.6"/>
<line x1="469.6" y1="200.6" x2="480.3" y2="203.5" stroke="#333" stroke-width="0.6"/>
<text x="489.65" y="198.91" font-size="6.1" text-anchor="middle" fill="#111" >CO</text>
<text x="490.95" y="204.81" font-size="6.1" text-anchor="middle" fill="#111" ><tspan font-size="4.76">*</tspan>CHO</text>
<line x1="499" y1="201.5" x2="509.6" y2="201.5" stroke="#333" stroke-width="0.5"/>
<polygon points="510.8,201.5 508.9,200.75 508.9,202.25" fill="#333"/>
<text x="520.6" y="203.01" font-size="6.1" text-anchor="middle" fill="#111" ><tspan font-size="4.76">*</tspan>HCHO</text>
<line x1="531.1" y1="201" x2="538.6" y2="201" stroke="#333" stroke-width="0.5"/>
<polygon points="539.8,201 537.9,200.25 537.9,201.75" fill="#333"/>
<text x="547.9" y="202.31" font-size="6.1" text-anchor="middle" font-weight="bold" fill="#111" ><tspan font-size="4.76">*</tspan>CH<tspan font-size="3.78" dy="1.34">2</tspan><tspan dy="-1.34">O</tspan></text>
<line x1="556.7" y1="200.3" x2="564.7" y2="200.3" stroke="#e02020" stroke-width="0.5"/>
<polygon points="565.9,200.3 564,199.55 564,201.05" fill="#e02020"/>
<text x="577.05" y="202.31" font-size="6.1" text-anchor="middle" font-weight="bold" fill="#111" ><tspan font-size="4.76">*</tspan>CH<tspan font-size="3.78" dy="1.34">2</tspan><tspan dy="-1.34">O</tspan>H</text>
<line x1="589" y1="199.5" x2="596.9" y2="196.5" stroke="#e02020" stroke-width="0.5"/>
<polygon points="598.1,196.5 596.06,196.38 596.53,197.81" fill="#e02020"/>
<line x1="589" y1="201" x2="596.9" y2="203" stroke="#333" stroke-width="0.5"/>
<polygon points="598.1,203 596.41,201.86 596.08,203.32" fill="#333"/>
<text x="608.45" y="198.11" font-size="6.1" text-anchor="middle" font-weight="bold" fill="#111" >CH<tspan font-size="3.78" dy="1.34">3</tspan><tspan dy="-1.34">O</tspan>H</text>
<text x="605.35" y="204.81" font-size="6.1" text-anchor="middle" fill="#111" ><tspan font-size="4.76">*</tspan>CH<tspan font-size="3.78" dy="1.34">3</tspan></text>
<line x1="618" y1="201" x2="625.5" y2="201" stroke="#333" stroke-width="0.5"/>
<polygon points="626.7,201 624.8,200.25 624.8,201.75" fill="#333"/>
<text x="633.5" y="202.61" font-size="6.1" text-anchor="middle" fill="#111" ><tspan font-size="4.76">*</tspan>CH<tspan font-size="3.78" dy="1.34">4</tspan></text>
<line x1="641" y1="200.6" x2="651.5" y2="200.6" stroke="#333" stroke-width="0.5"/>
<polygon points="652.7,200.6 650.8,199.85 650.8,201.35" fill="#333"/>
<text x="658.95" y="202.61" font-size="6.1" text-anchor="middle" fill="#111" >CH<tspan font-size="3.78" dy="1.34">4</tspan></text>
<text x="37.85" y="422.91" font-size="6.1" text-anchor="middle" fill="#111" >CO<tspan font-size="3.78" dy="1.34">2</tspan></text>
<line x1="45.6" y1="420.9" x2="55.3" y2="420.9" stroke="#333" stroke-width="0.5"/>
<polygon points="56.5,420.9 54.6,420.15 54.6,421.65" fill="#333"/>
<text x="64.15" y="422.91" font-size="6.1" text-anchor="middle" font-weight="bold" fill="#111" ><tspan font-size="4.76">*</tspan>CO<tspan font-size="3.78" dy="1.34">2</tspan></text>
<line x1="71" y1="419.5" x2="79.8" y2="415.8" stroke="#e02020" stroke-width="0.5"/>
<polygon points="81,415.8 78.96,415.76 79.48,417.16" fill="#e02020"/>
<line x1="71" y1="421" x2="79.8" y2="422" stroke="#333" stroke-width="0.5"/>
<polygon points="81,422 79.18,421.06 79.03,422.56" fill="#333"/>
<text x="90.4" y="418.01" font-size="6.1" text-anchor="middle" font-weight="bold" fill="#111" ><tspan font-size="4.76">*</tspan>COOH</text>
<line x1="101.6" y1="416" x2="111.4" y2="416" stroke="#333" stroke-width="0.5"/>
<polygon points="112.6,416 110.7,415.25 110.7,416.75" fill="#333"/>
<text x="121.6" y="418.01" font-size="6.1" text-anchor="middle" fill="#111" ><tspan font-size="4.76">*</tspan>CO</text>
<line x1="130.1" y1="416" x2="140.6" y2="416" stroke="#333" stroke-width="0.5"/>
<polygon points="141.8,416 139.9,415.25 139.9,416.75" fill="#333"/>
<text x="148.85" y="418.01" font-size="6.1" text-anchor="middle" fill="#111" >CO</text>
<text x="90.6" y="423.81" font-size="6.1" text-anchor="middle" fill="#111" ><tspan font-size="4.76">*</tspan>HCOO</text>
<line x1="100.2" y1="421.8" x2="107.4" y2="421.8" stroke="#e02020" stroke-width="0.5"/>
<polygon points="108.6,421.8 106.7,421.05 106.7,422.55" fill="#e02020"/>
<text x="119.15" y="423.81" font-size="6.1" text-anchor="middle" font-weight="bold" fill="#111" ><tspan font-size="4.76">*</tspan>HCOOH</text>
<line x1="129.7" y1="421.8" x2="134.8" y2="421.8" stroke="#333" stroke-width="0.5"/>
<polygon points="136,421.8 134.1,421.05 134.1,422.55" fill="#333"/>
<text x="149.8" y="423.81" font-size="6.1" text-anchor="middle" font-weight="bold" fill="#111" ><tspan font-size="4.76">*</tspan>H<tspan font-size="3.78" dy="1.34">2</tspan><tspan dy="-1.34">C</tspan>OOH</text>
<line x1="163.3" y1="421.8" x2="170.5" y2="421.8" stroke="#e02020" stroke-width="0.5"/>
<polygon points="171.7,421.8 169.8,421.05 169.8,422.55" fill="#e02020"/>
<text x="181.35" y="423.41" font-size="6.1" text-anchor="middle" font-weight="bold" fill="#111" ><tspan font-size="4.76">*</tspan>HCHO</text>
<line x1="191.7" y1="421.2" x2="199.4" y2="421.2" stroke="#333" stroke-width="0.5"/>
<polygon points="200.6,421.2 198.7,420.45 198.7,421.95" fill="#333"/>
<text x="207.8" y="423.21" font-size="6.1" text-anchor="middle" fill="#111" ><tspan font-size="4.76">*</tspan>CH<tspan font-size="3.78" dy="1.34">2</tspan><tspan dy="-1.34">O</tspan></text>
<line x1="215.5" y1="421.2" x2="222" y2="421.2" stroke="#333" stroke-width="0.5"/>
<polygon points="223.2,421.2 221.3,420.45 221.3,421.95" fill="#333"/>
<text x="234.3" y="423.21" font-size="6.1" text-anchor="middle" fill="#111" ><tspan font-size="4.76">*</tspan>CH<tspan font-size="3.78" dy="1.34">2</tspan><tspan dy="-1.34">O</tspan>H</text>
<line x1="246.6" y1="420.6" x2="255.9" y2="416.5" stroke="#333" stroke-width="0.6"/>
<line x1="246.6" y1="421.2" x2="254.7" y2="422.5" stroke="#333" stroke-width="0.5"/>
<polygon points="255.9,422.5 254.12,421.49 253.91,422.98" fill="#333"/>
<text x="266.2" y="418.01" font-size="6.1" text-anchor="middle" fill="#111" >CH<tspan font-size="3.78" dy="1.34">3</tspan><tspan dy="-1.34">O</tspan>H</text>
<text x="263.55" y="423.81" font-size="6.1" text-anchor="middle" fill="#111" ><tspan font-size="4.76">*</tspan>CH<tspan font-size="3.78" dy="1.34">3</tspan></text>
<line x1="273" y1="420.5" x2="283.9" y2="420.5" stroke="#333" stroke-width="0.5"/>
<polygon points="285.1,420.5 283.2,419.75 283.2,421.25" fill="#333"/>
<text x="290.75" y="422.91" font-size="6.1" text-anchor="middle" fill="#111" ><tspan font-size="4.76">*</tspan>CH<tspan font-size="3.78" dy="1.34">4</tspan></text>
<line x1="298.7" y1="420.9" x2="308.5" y2="420.9" stroke="#333" stroke-width="0.5"/>
<polygon points="309.7,420.9 307.8,420.15 307.8,421.65" fill="#333"/>
<text x="316.1" y="422.91" font-size="6.1" text-anchor="middle" fill="#111" >CH<tspan font-size="3.78" dy="1.34">4</tspan></text>
<text x="377.25" y="422.91" font-size="6.1" text-anchor="middle" font-weight="bold" fill="#111" >CO<tspan font-size="3.78" dy="1.34">2</tspan></text>
<line x1="384.2" y1="420.9" x2="395.3" y2="420.9" stroke="#e02020" stroke-width="0.5"/>
<polygon points="396.5,420.9 394.6,420.15 394.6,421.65" fill="#e02020"/>
<text x="404.95" y="422.91" font-size="6.1" text-anchor="middle" font-weight="bold" fill="#111" ><tspan font-size="4.76">*</tspan>CO<tspan font-size="3.78" dy="1.34">2</tspan></text>
<line x1="412.9" y1="420.9" x2="422.2" y2="420.9" stroke="#333" stroke-width="0.5"/>
<polygon points="423.4,420.9 421.5,420.15 421.5,421.65" fill="#333"/>
<text x="433.7" y="422.91" font-size="6.1" text-anchor="middle" font-weight="bold" fill="#111" ><tspan font-size="4.76">*</tspan>COOH</text>
<line x1="444.5" y1="419.8" x2="451.4" y2="415.3" stroke="#e02020" stroke-width="0.5"/>
<polygon points="452.6,415.3 450.57,415.57 451.3,416.88" fill="#e02020"/>
<line x1="444.5" y1="421.2" x2="451.4" y2="422" stroke="#333" stroke-width="0.5"/>
<polygon points="452.6,422 450.78,421.07 450.64,422.56" fill="#333"/>
<text x="459.4" y="417.51" font-size="6.1" text-anchor="middle" font-weight="bold" fill="#111" ><tspan font-size="4.76">*</tspan>CO</text>
<line x1="471.3" y1="415.5" x2="481.8" y2="415.5" stroke="#333" stroke-width="0.5"/>
<polygon points="483,415.5 481.1,414.75 481.1,416.25" fill="#333"/>
<text x="489.05" y="417.51" font-size="6.1" text-anchor="middle" fill="#111" >CO</text>
<text x="465.25" y="423.81" font-size="6.1" text-anchor="middle" fill="#111" ><tspan font-size="4.76">*</tspan>HCOOH</text>
<line x1="476.7" y1="421.8" x2="483" y2="421.8" stroke="#333" stroke-width="0.5"/>
<polygon points="484.2,421.8 482.3,421.05 482.3,422.55" fill="#333"/>
<text x="491.4" y="423.81" font-size="6.1" text-anchor="middle" fill="#111" ><tspan font-size="4.76">*</tspan>CHO</text>
<line x1="500" y1="421.5" x2="509.8" y2="421.5" stroke="#333" stroke-width="0.5"/>
<polygon points="511,421.5 509.1,420.75 509.1,422.25" fill="#333"/>
<text x="520.9" y="423.31" font-size="6.1" text-anchor="middle" fill="#111" ><tspan font-size="4.76">*</tspan>HCHO</text>
<line x1="531.6" y1="421.2" x2="539.3" y2="421.2" stroke="#333" stroke-width="0.5"/>
<polygon points="540.5,421.2 538.6,420.45 538.6,421.95" fill="#333"/>
<text x="548.9" y="423.11" font-size="6.1" text-anchor="middle" font-weight="bold" fill="#111" ><tspan font-size="4.76">*</tspan>CH<tspan font-size="3.78" dy="1.34">2</tspan><tspan dy="-1.34">O</tspan></text>
<line x1="558" y1="421.1" x2="564.6" y2="421.1" stroke="#e02020" stroke-width="0.5"/>
<polygon points="565.8,421.1 563.9,420.35 563.9,421.85" fill="#e02020"/>
<text x="577.15" y="423.11" font-size="6.1" text-anchor="middle" font-weight="bold" fill="#111" ><tspan font-size="4.76">*</tspan>CH<tspan font-size="3.78" dy="1.34">2</tspan><tspan dy="-1.34">O</tspan>H</text>
<line x1="588.5" y1="420" x2="595.9" y2="415.8" stroke="#e02020" stroke-width="0.5"/>
<polygon points="597.1,415.8 595.06,415.96 595.72,417.31" fill="#e02020"/>
<line x1="588.5" y1="421.5" x2="595.9" y2="422.2" stroke="#333" stroke-width="0.5"/>
<polygon points="597.1,422.2 595.27,421.3 595.15,422.79" fill="#333"/>
<text x="607.95" y="417.81" font-size="6.1" text-anchor="middle" font-weight="bold" fill="#111" >CH<tspan font-size="3.78" dy="1.34">3</tspan><tspan dy="-1.34">O</tspan>H</text>
<text x="606.15" y="424.31" font-size="6.1" text-anchor="middle" fill="#111" ><tspan font-size="4.76">*</tspan>CH<tspan font-size="3.78" dy="1.34">3</tspan></text>
<line x1="613.5" y1="421.5" x2="624.8" y2="421.5" stroke="#333" stroke-width="0.5"/>
<polygon points="626,421.5 624.1,420.75 624.1,422.25" fill="#333"/>
<text x="634.7" y="423.11" font-size="6.1" text-anchor="middle" fill="#111" ><tspan font-size="4.76">*</tspan>CH<tspan font-size="3.78" dy="1.34">4</tspan></text>
<line x1="642.9" y1="421.1" x2="653.8" y2="421.1" stroke="#333" stroke-width="0.5"/>
<polygon points="655,421.1 653.1,420.35 653.1,421.85" fill="#333"/>
<text x="661.55" y="423.11" font-size="6.1" text-anchor="middle" fill="#111" >CH<tspan font-size="3.78" dy="1.34">4</tspan></text>
</svg></body></html>
